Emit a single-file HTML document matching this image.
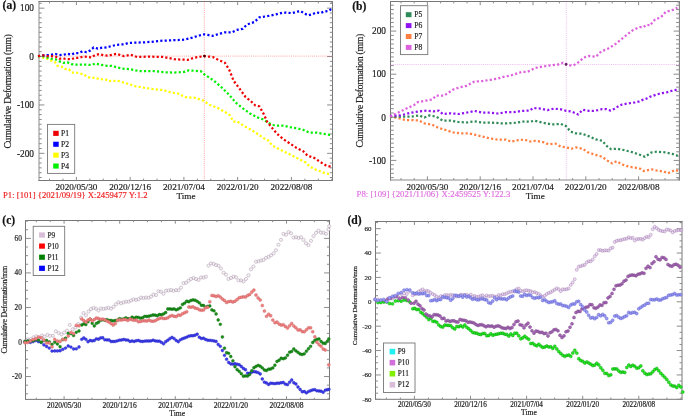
<!DOCTYPE html>
<html><head><meta charset="utf-8"><style>
html,body{margin:0;padding:0;background:#fff;overflow:hidden}
svg{display:block;will-change:transform}
text{font-family:"Liberation Serif",serif;paint-order:stroke;stroke:currentColor;stroke-width:0.18px}
</style></head><body>
<svg width="685" height="417" viewBox="0 0 685 417">
<rect width="685" height="417" fill="#fff"/>
<path d="M39 1V181" stroke="#8a8a8a" stroke-width="1"/>
<path d="M332.5 1V181" stroke="#777777" stroke-width="1"/>
<path d="M38.5 1.5H333" stroke="#777777" stroke-width="1"/>
<path d="M38.5 180.5H333" stroke="#777777" stroke-width="1"/>
<path d="M39 8.16h5.4M332.5 8.16h-5.4M39 56.55h5.4M332.5 56.55h-5.4M39 104.94h5.4M332.5 104.94h-5.4M39 153.33h5.4M332.5 153.33h-5.4M39 177.52h2.7M332.5 177.52h-2.7M39 172.69h2.7M332.5 172.69h-2.7M39 167.85h2.7M332.5 167.85h-2.7M39 163.01h2.7M332.5 163.01h-2.7M39 158.17h2.7M332.5 158.17h-2.7M39 148.49h2.7M332.5 148.49h-2.7M39 143.65h2.7M332.5 143.65h-2.7M39 138.81h2.7M332.5 138.81h-2.7M39 133.97h2.7M332.5 133.97h-2.7M39 129.13h2.7M332.5 129.13h-2.7M39 124.3h2.7M332.5 124.3h-2.7M39 119.46h2.7M332.5 119.46h-2.7M39 114.62h2.7M332.5 114.62h-2.7M39 109.78h2.7M332.5 109.78h-2.7M39 100.1h2.7M332.5 100.1h-2.7M39 95.26h2.7M332.5 95.26h-2.7M39 90.42h2.7M332.5 90.42h-2.7M39 85.58h2.7M332.5 85.58h-2.7M39 80.75h2.7M332.5 80.75h-2.7M39 75.91h2.7M332.5 75.91h-2.7M39 71.07h2.7M332.5 71.07h-2.7M39 66.23h2.7M332.5 66.23h-2.7M39 61.39h2.7M332.5 61.39h-2.7M39 51.71h2.7M332.5 51.71h-2.7M39 46.87h2.7M332.5 46.87h-2.7M39 42.03h2.7M332.5 42.03h-2.7M39 37.19h2.7M332.5 37.19h-2.7M39 32.35h2.7M332.5 32.35h-2.7M39 27.52h2.7M332.5 27.52h-2.7M39 22.68h2.7M332.5 22.68h-2.7M39 17.84h2.7M332.5 17.84h-2.7M39 13h2.7M332.5 13h-2.7M39 3.32h2.7M332.5 3.32h-2.7" stroke="#8c8c8c" stroke-width="1" fill="none"/>
<path d="M76.4 180.5v-3.6M76.4 1.5v3.6M130.15 180.5v-3.6M130.15 1.5v3.6M183.9 180.5v-3.6M183.9 1.5v3.6M237.65 180.5v-3.6M237.65 1.5v3.6M291.4 180.5v-3.6M291.4 1.5v3.6M49.52 180.5v-1.9M49.52 1.5v1.9M62.96 180.5v-1.9M62.96 1.5v1.9M89.84 180.5v-1.9M89.84 1.5v1.9M103.28 180.5v-1.9M103.28 1.5v1.9M116.72 180.5v-1.9M116.72 1.5v1.9M143.6 180.5v-1.9M143.6 1.5v1.9M157.04 180.5v-1.9M157.04 1.5v1.9M170.48 180.5v-1.9M170.48 1.5v1.9M197.36 180.5v-1.9M197.36 1.5v1.9M210.8 180.5v-1.9M210.8 1.5v1.9M224.24 180.5v-1.9M224.24 1.5v1.9M251.12 180.5v-1.9M251.12 1.5v1.9M264.56 180.5v-1.9M264.56 1.5v1.9M278 180.5v-1.9M278 1.5v1.9M304.88 180.5v-1.9M304.88 1.5v1.9M318.32 180.5v-1.9M318.32 1.5v1.9M331.76 180.5v-1.9M331.76 1.5v1.9" stroke="#8c8c8c" stroke-width="1" fill="none"/>
<path d="M204.3 1.5V180.5M39.0 56.1H332.5" stroke="#ff4040" stroke-width="0.8" stroke-dasharray="1,1.1" fill="none" opacity="0.6"/>
<path d="M38 56.1L42.6 57.5L47 58.7L50.9 60.5L55 62.1L57.2 65.7L61.4 66.5L64.9 68.9L68.9 69.3L71.8 72.5L76.1 72.5L79.9 73.4L84.1 74.6L87.1 76.9L91.3 77.9L95.5 77.7L99.1 79.1L103.3 79.3L107.5 79.9L108.8 81.1L117.5 80.7L126.3 83.3L135 86.1L143.8 87.7L152.6 89L163.5 90.1L172.3 92.7L177.7 93.4L185.4 97.1L194.2 97.7L202.9 100.4L209.3 104.8L217.8 108L224.6 111.8L229.9 115.2L233.2 121.5L237.6 121.7L244.1 126.1L250.7 129.4L257.3 133.8L263.8 138.2L267.1 139.3L272.6 145.8L281.3 150.2L287.9 153.5L294.5 156.8L301 160.1L305.4 162.3L309.8 166.6L316.4 169.9L325.1 173.2L330.6 174.3" fill="none" stroke="#ffff00" stroke-width="2.25" stroke-dasharray="2.15 2.2" stroke-dashoffset="0" stroke-linejoin="round"/>
<path d="M38 56.1L42.6 56.1L47 57.5L50.9 58.7L55.4 59.3L59.6 61.4L63.4 62.9L67.3 62.3L71.3 64.1L74.9 64.7L78.7 64.7L82.9 64.5L86.9 64.7L91.3 65L95.5 63.5L99.7 64.5L103.6 65.3L107.5 65.9L111.7 65.9L121.9 68.6L130.7 69.3L139.4 71.2L152.6 71L165.7 72.3L174.4 72.6L184.3 71.9L188.7 70.4L200.7 71.2L204 74.1L213.9 80.7L222.6 88.3L229.2 94.9L235.8 102.6L242.3 108L250 113.5L257.3 117.4L263.8 119.6L268.2 122.8L272.6 125L277 125.5L283.5 125.5L290.1 127.2L296.7 128.3L303.2 129.9L309.8 132.7L316.4 132.7L323 133.8L330.6 134.9" fill="none" stroke="#00ee00" stroke-width="2.25" stroke-dasharray="2.15 2.2" stroke-dashoffset="0" stroke-linejoin="round"/>
<path d="M38 56.1L42.6 55.4L47 55.1L50.9 54.9L55.4 54L59.3 55.1L63.4 54.9L67.3 53.7L71.3 54.6L74.9 53L78.7 53L82.5 51.3L86.5 52.2L90.5 50.4L93.7 47.4L97.9 48.6L102.1 47.7L106.5 47.4L110.8 46.2L117 44.8L124.3 44.3L127.9 43.1L133.9 42.7L143.4 42.4L150.6 41.9L157.8 41.2L162.6 40.7L172.2 40.3L181.8 39.8L185 39.5L192.2 37.6L199.4 35.5L204.2 34.3L209 35.2L212.6 35.9L218.5 34L224.5 32.4L231.7 32.4L236.5 30L242.5 28.8L247.3 24.4L254.5 22L259.3 17.3L266.5 16.3L276.1 14.4L283.2 12.5L292.2 13.1L296.6 11.8L300.7 11.1L304.4 13.6L308.4 15.3L312.5 14.2L316.4 12.4L320.5 13.1L324.4 11.4L328.8 10.9L332.5 8.1" fill="none" stroke="#0000ff" stroke-width="2.25" stroke-dasharray="2.15 2.2" stroke-dashoffset="0" stroke-linejoin="round"/>
<path d="M38 56.1L42.6 55.4L47 56.1L50.9 56.1L55.4 56.6L59.3 58.7L63.4 58.5L67.1 59L71.3 59.3L74.9 57.8L78.7 57.8L82.9 56.6L86.9 56.9L91.3 57.5L94.9 55.1L99.1 54.2L103.3 55.1L107.5 55.7L111.7 54.9L116.4 53.9L124.1 56.1L130.7 54.8L137.2 57L148.2 56.6L163.5 57L174.4 59.2L187.6 59.9L194.2 57.7L204 56.1L212.8 57L218.2 59.9L224.8 62.7L229.2 69.7L233.6 80.7L240.1 89.4L245.6 97.1L250.7 100.9L255.1 105.3L259.4 106.4L263.8 114.1L267.1 121.7L271.5 127.2L277 133.8L283.5 139.3L290.1 143.6L296.7 148L303.2 151.3L307.6 155.7L314.2 157.9L320.8 162.3L326.2 165.5L330.6 166.6" fill="none" stroke="#ee0000" stroke-width="2.25" stroke-dasharray="2.15 2.2" stroke-dashoffset="0" stroke-linejoin="round"/>
<circle cx="204.4" cy="56.1" r="1.4" fill="#500000"/>
<text x="34" y="11.46" font-size="9.3" text-anchor="end" fill="#222" style="color:#222" font-weight="normal" >100</text>
<text x="34" y="59.85" font-size="9.3" text-anchor="end" fill="#222" style="color:#222" font-weight="normal" >0</text>
<text x="34" y="108.24" font-size="9.3" text-anchor="end" fill="#222" style="color:#222" font-weight="normal" >-100</text>
<text x="34" y="156.63" font-size="9.3" text-anchor="end" fill="#222" style="color:#222" font-weight="normal" >-200</text>
<text x="76.4" y="190" font-size="9.2" text-anchor="middle" fill="#222" style="color:#222" font-weight="normal" >2020/05/30</text>
<text x="130.15" y="190" font-size="9.2" text-anchor="middle" fill="#222" style="color:#222" font-weight="normal" >2020/12/16</text>
<text x="183.9" y="190" font-size="9.2" text-anchor="middle" fill="#222" style="color:#222" font-weight="normal" >2021/07/04</text>
<text x="237.65" y="190" font-size="9.2" text-anchor="middle" fill="#222" style="color:#222" font-weight="normal" >2022/01/20</text>
<text x="291.4" y="190" font-size="9.2" text-anchor="middle" fill="#222" style="color:#222" font-weight="normal" >2022/08/08</text>
<text x="186" y="198.9" font-size="9.2" text-anchor="middle" fill="#222" style="color:#222" font-weight="normal" >Time</text>
<text x="3" y="198" font-size="8.9" text-anchor="start" fill="#ee2222" style="color:#ee2222" font-weight="normal" textLength="144.5" lengthAdjust="spacingAndGlyphs">P1: [101] {2021/09/19} X:2459477 Y:1.2</text>
<text transform="translate(10.8,91.4) rotate(-90)" font-size="9.7" text-anchor="middle" fill="#222" style="color:#222" textLength="114.4" lengthAdjust="spacing">Cumulative Deformation (mm)</text>
<text x="2.6" y="8.9" font-size="11.6" text-anchor="start" fill="#111" style="color:#111" font-weight="bold" >(a)</text>
<rect x="47.5" y="124.4" width="27.2" height="49" fill="#fff" stroke="#777" stroke-width="0.9"/>
<rect x="53.2" y="130.8" width="5.5" height="5.1" fill="#ee0000"/>
<text x="61" y="135.9" font-size="7.6" text-anchor="start" fill="#222" style="color:#222" font-weight="normal" >P1</text>
<rect x="53.2" y="141.7" width="5.5" height="5.1" fill="#0000ff"/>
<text x="61" y="146.8" font-size="7.6" text-anchor="start" fill="#222" style="color:#222" font-weight="normal" >P2</text>
<rect x="53.2" y="152.6" width="5.5" height="5.1" fill="#ffff00"/>
<text x="61" y="157.7" font-size="7.6" text-anchor="start" fill="#222" style="color:#222" font-weight="normal" >P3</text>
<rect x="53.2" y="163.5" width="5.5" height="5.1" fill="#00ee00"/>
<text x="61" y="168.6" font-size="7.6" text-anchor="start" fill="#222" style="color:#222" font-weight="normal" >P4</text>
<path d="M390.5 1V180.5" stroke="#777777" stroke-width="1"/>
<path d="M679.4 1V180.5" stroke="#777777" stroke-width="1"/>
<path d="M390 1.5H679.9" stroke="#777777" stroke-width="1"/>
<path d="M390 180H679.9" stroke="#8a8a8a" stroke-width="1"/>
<path d="M390.5 31.1h5.8M679.4 31.1h-5.8M390.5 74.2h5.8M679.4 74.2h-5.8M390.5 117.3h5.8M679.4 117.3h-5.8M390.5 160.4h5.8M679.4 160.4h-5.8M390.5 177.64h3.3M679.4 177.64h-3.3M390.5 173.33h3.3M679.4 173.33h-3.3M390.5 169.02h3.3M679.4 169.02h-3.3M390.5 164.71h3.3M679.4 164.71h-3.3M390.5 156.09h3.3M679.4 156.09h-3.3M390.5 151.78h3.3M679.4 151.78h-3.3M390.5 147.47h3.3M679.4 147.47h-3.3M390.5 143.16h3.3M679.4 143.16h-3.3M390.5 138.85h3.3M679.4 138.85h-3.3M390.5 134.54h3.3M679.4 134.54h-3.3M390.5 130.23h3.3M679.4 130.23h-3.3M390.5 125.92h3.3M679.4 125.92h-3.3M390.5 121.61h3.3M679.4 121.61h-3.3M390.5 112.99h3.3M679.4 112.99h-3.3M390.5 108.68h3.3M679.4 108.68h-3.3M390.5 104.37h3.3M679.4 104.37h-3.3M390.5 100.06h3.3M679.4 100.06h-3.3M390.5 95.75h3.3M679.4 95.75h-3.3M390.5 91.44h3.3M679.4 91.44h-3.3M390.5 87.13h3.3M679.4 87.13h-3.3M390.5 82.82h3.3M679.4 82.82h-3.3M390.5 78.51h3.3M679.4 78.51h-3.3M390.5 69.89h3.3M679.4 69.89h-3.3M390.5 65.58h3.3M679.4 65.58h-3.3M390.5 61.27h3.3M679.4 61.27h-3.3M390.5 56.96h3.3M679.4 56.96h-3.3M390.5 52.65h3.3M679.4 52.65h-3.3M390.5 48.34h3.3M679.4 48.34h-3.3M390.5 44.03h3.3M679.4 44.03h-3.3M390.5 39.72h3.3M679.4 39.72h-3.3M390.5 35.41h3.3M679.4 35.41h-3.3M390.5 26.79h3.3M679.4 26.79h-3.3M390.5 22.48h3.3M679.4 22.48h-3.3M390.5 18.17h3.3M679.4 18.17h-3.3M390.5 13.86h3.3M679.4 13.86h-3.3M390.5 9.55h3.3M679.4 9.55h-3.3M390.5 5.24h3.3M679.4 5.24h-3.3" stroke="#8c8c8c" stroke-width="1" fill="none"/>
<path d="M427.4 180v-3.7M427.4 1.5v3.7M480.2 180v-3.7M480.2 1.5v3.7M533 180v-3.7M533 1.5v3.7M585.8 180v-3.7M585.8 1.5v3.7M638.6 180v-3.7M638.6 1.5v3.7M401 180v-1.9M401 1.5v1.9M414.2 180v-1.9M414.2 1.5v1.9M440.6 180v-1.9M440.6 1.5v1.9M453.8 180v-1.9M453.8 1.5v1.9M467 180v-1.9M467 1.5v1.9M493.4 180v-1.9M493.4 1.5v1.9M506.6 180v-1.9M506.6 1.5v1.9M519.8 180v-1.9M519.8 1.5v1.9M546.2 180v-1.9M546.2 1.5v1.9M559.4 180v-1.9M559.4 1.5v1.9M572.6 180v-1.9M572.6 1.5v1.9M599 180v-1.9M599 1.5v1.9M612.2 180v-1.9M612.2 1.5v1.9M625.4 180v-1.9M625.4 1.5v1.9M651.8 180v-1.9M651.8 1.5v1.9M665 180v-1.9M665 1.5v1.9M678.2 180v-1.9M678.2 1.5v1.9" stroke="#8c8c8c" stroke-width="1" fill="none"/>
<path d="M566.3 1.5V180.0M390.5 64.5H679.4" stroke="#e060e0" stroke-width="0.8" stroke-dasharray="1,1.1" fill="none" opacity="0.55"/>
<path d="M390 116.7L397.9 118L405.8 120.1L413.7 120.1L419 120.6L424.3 123.3L432.2 124.6L438.8 128L445.4 129.9L453.3 132.5L461.2 133.3L467.8 133.3L474.4 134.6L482.3 136.5L490.2 138.6L498.1 139.6L506 139.6L511.3 141.7L516.5 140.4L524.5 139.6L530 141.5L535.5 140.8L543.1 142.1L548.6 144.3L555.2 143.6L560.7 146.5L566.1 147.4L571.6 148.7L576 147.4L582.6 148.7L588 152.4L594.6 154.6L602.3 156.8L606.6 160.1L612.1 163.4L616.5 161.2L622 164.4L628.5 166.6L635.1 167.7L640.6 168.8L643.9 171L651.5 169.3L657 170.6L663.6 171.5L668 173.2L675.6 169.9L678.9 171.5" fill="none" stroke="#ff7f40" stroke-width="2.25" stroke-dasharray="2.15 2.2" stroke-dashoffset="0" stroke-linejoin="round"/>
<path d="M390 116.7L400.5 116.7L411.1 116.7L419 115.4L424.3 117.5L429.5 115.4L436.1 116.7L442.7 120.6L450.6 120.6L458.5 122L466.5 122.5L474.4 121.4L482.3 122.5L490.2 122.5L500.7 123.3L508.6 123.3L516.5 122.7L524.5 121.4L530 121.7L534.4 120.7L543.1 122.8L551.9 124.4L560.7 123.9L566.1 126.1L570.5 131.6L576 133.4L582.6 133.8L589.1 136.4L595.7 139.3L602.3 140.8L606.6 145.8L611 149.1L617.6 148.7L624.2 150.2L630.7 151.7L637.3 153.9L645 156.8L651.5 152.4L657 151.7L665.8 152.4L672.3 153.9L677.8 155.7" fill="none" stroke="#2e8b57" stroke-width="2.25" stroke-dasharray="2.15 2.2" stroke-dashoffset="0" stroke-linejoin="round"/>
<path d="M390 115.9L400.5 115.4L411.1 112.7L419 111.4L426.9 110.6L433.5 111.4L438.8 110.6L442.7 114L450.6 113.3L458.5 114L466.5 112.7L474.4 110.9L482.3 112.7L490.2 112.7L498.1 113.5L506 112.2L513.9 112.2L521.8 110.9L529.7 110.6L533.3 108L540.9 108.6L547.5 110.1L554.1 108.6L560.7 109.3L566.1 110.8L571.6 111.5L578.2 114.5L582.6 109.7L589.1 110.8L593.5 110.8L597.9 110.1L602.1 109.1L606.3 109.1L610.6 110.6L614.5 108.7L618.2 106.4L622.2 104.4L626.6 103.7L630.7 103L634.9 102.5L639.2 101.4L643.2 99.6L647.4 98.3L650.4 96.6L657 94.4L661.4 93.3L667.1 92.3L673.7 90.2L679 89.6" fill="none" stroke="#9014f0" stroke-width="2.25" stroke-dasharray="2.15 2.2" stroke-dashoffset="0" stroke-linejoin="round"/>
<path d="M390 116.7L397.9 112.7L405.8 108.8L413.7 105.3L417.7 102.2L424.3 100.9L432.2 99.5L436.1 95.6L444 95.6L448 93L453.3 89.5L458.5 87.7L466.5 85.8L474.4 81.6L482.3 81.1L490.2 79.8L498.1 78.5L503.4 76.9L511.3 75.3L521.8 71.9L527.1 71.9L530 70.7L535.3 68L543.2 66.4L551.1 65.4L557.7 64.6L563 62.7L566.4 64.1L569.5 65.4L573.5 65.4L578.8 62L584 57.5L589.3 55.9L595.9 56.7L601.2 51.4L607.8 48.8L614.4 44.8L621 39.5L627.5 34.3L633.3 29.8L637.1 28.2L640.3 27.1L643.4 27.1L646.5 24.8L650.4 25.4L652.6 21.7L655.6 19.1L659.9 17.8L662.8 15.3L665.5 12L669.7 10.9L673.6 9.6L677.4 7.7" fill="none" stroke="#dd60dd" stroke-width="2.25" stroke-dasharray="2.15 2.2" stroke-dashoffset="0" stroke-linejoin="round"/>
<circle cx="566" cy="64.4" r="1.3" fill="#602060"/>
<text x="386" y="34.3" font-size="9.3" text-anchor="end" fill="#222" style="color:#222" font-weight="normal" >200</text>
<text x="386" y="77.4" font-size="9.3" text-anchor="end" fill="#222" style="color:#222" font-weight="normal" >100</text>
<text x="386" y="120.5" font-size="9.3" text-anchor="end" fill="#222" style="color:#222" font-weight="normal" >0</text>
<text x="386" y="163.6" font-size="9.3" text-anchor="end" fill="#222" style="color:#222" font-weight="normal" >-100</text>
<text x="427.4" y="189.7" font-size="9.2" text-anchor="middle" fill="#222" style="color:#222" font-weight="normal" >2020/05/30</text>
<text x="480.2" y="189.7" font-size="9.2" text-anchor="middle" fill="#222" style="color:#222" font-weight="normal" >2020/12/16</text>
<text x="533" y="189.7" font-size="9.2" text-anchor="middle" fill="#222" style="color:#222" font-weight="normal" >2021/07/04</text>
<text x="585.8" y="189.7" font-size="9.2" text-anchor="middle" fill="#222" style="color:#222" font-weight="normal" >2022/01/20</text>
<text x="638.6" y="189.7" font-size="9.2" text-anchor="middle" fill="#222" style="color:#222" font-weight="normal" >2022/08/08</text>
<text x="535.3" y="198.7" font-size="9.2" text-anchor="middle" fill="#222" style="color:#222" font-weight="normal" >Time</text>
<text x="356.6" y="197" font-size="8.9" text-anchor="start" fill="#e070e0" style="color:#e070e0" font-weight="normal" textLength="153.7" lengthAdjust="spacingAndGlyphs">P8: [109] {2021/11/06} X:2459525 Y:122.3</text>
<text transform="translate(362.9,90.6) rotate(-90)" font-size="9.7" text-anchor="middle" fill="#222" style="color:#222" textLength="113.6" lengthAdjust="spacing">Cumulative Deformation (mm)</text>
<text x="352.2" y="9.5" font-size="11.6" text-anchor="start" fill="#111" style="color:#111" font-weight="bold" >(b)</text>
<rect x="400.5" y="5.7" width="27.3" height="48.9" fill="#fff" stroke="#777" stroke-width="0.9"/>
<rect x="405.8" y="12.2" width="5.7" height="5" fill="#2e8b57"/>
<text x="414.3" y="17.3" font-size="7.6" text-anchor="start" fill="#222" style="color:#222" font-weight="normal" >P5</text>
<rect x="405.8" y="23.1" width="5.7" height="5" fill="#9014f0"/>
<text x="414.3" y="28.2" font-size="7.6" text-anchor="start" fill="#222" style="color:#222" font-weight="normal" >P6</text>
<rect x="405.8" y="34" width="5.7" height="5" fill="#ff7f40"/>
<text x="414.3" y="39.1" font-size="7.6" text-anchor="start" fill="#222" style="color:#222" font-weight="normal" >P7</text>
<rect x="405.8" y="44.9" width="5.7" height="5" fill="#dd60dd"/>
<text x="414.3" y="50" font-size="7.6" text-anchor="start" fill="#222" style="color:#222" font-weight="normal" >P8</text>
<path d="M25.5 220V399.9" stroke="#777777" stroke-width="1"/>
<path d="M329.5 220V399.9" stroke="#777777" stroke-width="1"/>
<path d="M25 220.5H330" stroke="#777777" stroke-width="1"/>
<path d="M25 399.4H330" stroke="#777777" stroke-width="1"/>
<path d="M25.5 238.38h5.4M329.5 238.38h-5.4M25.5 272.92h5.4M329.5 272.92h-5.4M25.5 307.46h5.4M329.5 307.46h-5.4M25.5 342h5.4M329.5 342h-5.4M25.5 376.54h5.4M329.5 376.54h-5.4M25.5 393.81h2.6M329.5 393.81h-2.6M25.5 385.18h2.6M329.5 385.18h-2.6M25.5 367.9h2.6M329.5 367.9h-2.6M25.5 359.27h2.6M329.5 359.27h-2.6M25.5 350.63h2.6M329.5 350.63h-2.6M25.5 333.37h2.6M329.5 333.37h-2.6M25.5 324.73h2.6M329.5 324.73h-2.6M25.5 316.1h2.6M329.5 316.1h-2.6M25.5 298.82h2.6M329.5 298.82h-2.6M25.5 290.19h2.6M329.5 290.19h-2.6M25.5 281.56h2.6M329.5 281.56h-2.6M25.5 264.28h2.6M329.5 264.28h-2.6M25.5 255.65h2.6M329.5 255.65h-2.6M25.5 247.01h2.6M329.5 247.01h-2.6M25.5 229.75h2.6M329.5 229.75h-2.6M25.5 221.11h2.6M329.5 221.11h-2.6" stroke="#8c8c8c" stroke-width="1" fill="none"/>
<path d="M64.1 399.4v-3.2M64.1 220.5v3.2M119.7 399.4v-3.2M119.7 220.5v3.2M175.3 399.4v-3.2M175.3 220.5v3.2M230.9 399.4v-3.2M230.9 220.5v3.2M286.5 399.4v-3.2M286.5 220.5v3.2M36.3 399.4v-1.7M36.3 220.5v1.7M50.2 399.4v-1.7M50.2 220.5v1.7M78 399.4v-1.7M78 220.5v1.7M91.9 399.4v-1.7M91.9 220.5v1.7M105.8 399.4v-1.7M105.8 220.5v1.7M133.6 399.4v-1.7M133.6 220.5v1.7M147.5 399.4v-1.7M147.5 220.5v1.7M161.4 399.4v-1.7M161.4 220.5v1.7M189.2 399.4v-1.7M189.2 220.5v1.7M203.1 399.4v-1.7M203.1 220.5v1.7M217 399.4v-1.7M217 220.5v1.7M244.8 399.4v-1.7M244.8 220.5v1.7M258.7 399.4v-1.7M258.7 220.5v1.7M272.6 399.4v-1.7M272.6 220.5v1.7M300.4 399.4v-1.7M300.4 220.5v1.7M314.3 399.4v-1.7M314.3 220.5v1.7M328.2 399.4v-1.7M328.2 220.5v1.7" stroke="#8c8c8c" stroke-width="1" fill="none"/>
<path d="M23.4 341.14a1.6 1.6 0 1 0 3.2 0a1.6 1.6 0 1 0 -3.2 0M26.2 339.24a1.6 1.6 0 1 0 3.2 0a1.6 1.6 0 1 0 -3.2 0M29 339.29a1.6 1.6 0 1 0 3.2 0a1.6 1.6 0 1 0 -3.2 0M31.8 337.33a1.6 1.6 0 1 0 3.2 0a1.6 1.6 0 1 0 -3.2 0M34.6 336.39a1.6 1.6 0 1 0 3.2 0a1.6 1.6 0 1 0 -3.2 0M37.4 337.73a1.6 1.6 0 1 0 3.2 0a1.6 1.6 0 1 0 -3.2 0M40.2 335.56a1.6 1.6 0 1 0 3.2 0a1.6 1.6 0 1 0 -3.2 0M43 336.57a1.6 1.6 0 1 0 3.2 0a1.6 1.6 0 1 0 -3.2 0M45.8 334.86a1.6 1.6 0 1 0 3.2 0a1.6 1.6 0 1 0 -3.2 0M48.6 335.91a1.6 1.6 0 1 0 3.2 0a1.6 1.6 0 1 0 -3.2 0M51.4 335.68a1.6 1.6 0 1 0 3.2 0a1.6 1.6 0 1 0 -3.2 0M54.2 331.26a1.6 1.6 0 1 0 3.2 0a1.6 1.6 0 1 0 -3.2 0M57 333.02a1.6 1.6 0 1 0 3.2 0a1.6 1.6 0 1 0 -3.2 0M59.8 334.34a1.6 1.6 0 1 0 3.2 0a1.6 1.6 0 1 0 -3.2 0M62.6 332.58a1.6 1.6 0 1 0 3.2 0a1.6 1.6 0 1 0 -3.2 0M65.4 330.62a1.6 1.6 0 1 0 3.2 0a1.6 1.6 0 1 0 -3.2 0M68.2 324.91a1.6 1.6 0 1 0 3.2 0a1.6 1.6 0 1 0 -3.2 0M71 329.33a1.6 1.6 0 1 0 3.2 0a1.6 1.6 0 1 0 -3.2 0M73.8 327.5a1.6 1.6 0 1 0 3.2 0a1.6 1.6 0 1 0 -3.2 0M76.6 324a1.6 1.6 0 1 0 3.2 0a1.6 1.6 0 1 0 -3.2 0M79.4 317.61a1.6 1.6 0 1 0 3.2 0a1.6 1.6 0 1 0 -3.2 0M81.9 313.04a1.6 1.6 0 1 0 3.2 0a1.6 1.6 0 1 0 -3.2 0M84.4 315.26a1.6 1.6 0 1 0 3.2 0a1.6 1.6 0 1 0 -3.2 0M86.9 311.55a1.6 1.6 0 1 0 3.2 0a1.6 1.6 0 1 0 -3.2 0M89.4 309.09a1.6 1.6 0 1 0 3.2 0a1.6 1.6 0 1 0 -3.2 0M91.9 307.97a1.6 1.6 0 1 0 3.2 0a1.6 1.6 0 1 0 -3.2 0M94.4 308.65a1.6 1.6 0 1 0 3.2 0a1.6 1.6 0 1 0 -3.2 0M96.9 310.48a1.6 1.6 0 1 0 3.2 0a1.6 1.6 0 1 0 -3.2 0M99.4 308.5a1.6 1.6 0 1 0 3.2 0a1.6 1.6 0 1 0 -3.2 0M101.9 308.9a1.6 1.6 0 1 0 3.2 0a1.6 1.6 0 1 0 -3.2 0M104.4 308.39a1.6 1.6 0 1 0 3.2 0a1.6 1.6 0 1 0 -3.2 0M106.9 307.75a1.6 1.6 0 1 0 3.2 0a1.6 1.6 0 1 0 -3.2 0M109.4 308.64a1.6 1.6 0 1 0 3.2 0a1.6 1.6 0 1 0 -3.2 0M111.9 306.76a1.6 1.6 0 1 0 3.2 0a1.6 1.6 0 1 0 -3.2 0M114.4 304.25a1.6 1.6 0 1 0 3.2 0a1.6 1.6 0 1 0 -3.2 0M116.9 302.23a1.6 1.6 0 1 0 3.2 0a1.6 1.6 0 1 0 -3.2 0M119.4 303.29a1.6 1.6 0 1 0 3.2 0a1.6 1.6 0 1 0 -3.2 0M121.9 302.45a1.6 1.6 0 1 0 3.2 0a1.6 1.6 0 1 0 -3.2 0M124.4 301.63a1.6 1.6 0 1 0 3.2 0a1.6 1.6 0 1 0 -3.2 0M126.9 301.68a1.6 1.6 0 1 0 3.2 0a1.6 1.6 0 1 0 -3.2 0M129.4 300.62a1.6 1.6 0 1 0 3.2 0a1.6 1.6 0 1 0 -3.2 0M131.9 299.4a1.6 1.6 0 1 0 3.2 0a1.6 1.6 0 1 0 -3.2 0M134.4 299.91a1.6 1.6 0 1 0 3.2 0a1.6 1.6 0 1 0 -3.2 0M136.9 299.23a1.6 1.6 0 1 0 3.2 0a1.6 1.6 0 1 0 -3.2 0M139.4 297.6a1.6 1.6 0 1 0 3.2 0a1.6 1.6 0 1 0 -3.2 0M141.9 298.07a1.6 1.6 0 1 0 3.2 0a1.6 1.6 0 1 0 -3.2 0M144.4 297.55a1.6 1.6 0 1 0 3.2 0a1.6 1.6 0 1 0 -3.2 0M146.9 297.84a1.6 1.6 0 1 0 3.2 0a1.6 1.6 0 1 0 -3.2 0M149.4 296.63a1.6 1.6 0 1 0 3.2 0a1.6 1.6 0 1 0 -3.2 0M151.9 294.54a1.6 1.6 0 1 0 3.2 0a1.6 1.6 0 1 0 -3.2 0M154.4 295.06a1.6 1.6 0 1 0 3.2 0a1.6 1.6 0 1 0 -3.2 0M156.9 291.29a1.6 1.6 0 1 0 3.2 0a1.6 1.6 0 1 0 -3.2 0M159.4 291.59a1.6 1.6 0 1 0 3.2 0a1.6 1.6 0 1 0 -3.2 0M161.9 293.72a1.6 1.6 0 1 0 3.2 0a1.6 1.6 0 1 0 -3.2 0M164.4 290.66a1.6 1.6 0 1 0 3.2 0a1.6 1.6 0 1 0 -3.2 0M166.9 290.48a1.6 1.6 0 1 0 3.2 0a1.6 1.6 0 1 0 -3.2 0M169.4 289.97a1.6 1.6 0 1 0 3.2 0a1.6 1.6 0 1 0 -3.2 0M171.9 290.71a1.6 1.6 0 1 0 3.2 0a1.6 1.6 0 1 0 -3.2 0M174.4 290.15a1.6 1.6 0 1 0 3.2 0a1.6 1.6 0 1 0 -3.2 0M176.9 290.31a1.6 1.6 0 1 0 3.2 0a1.6 1.6 0 1 0 -3.2 0M179.4 287.68a1.6 1.6 0 1 0 3.2 0a1.6 1.6 0 1 0 -3.2 0M181.9 283.2a1.6 1.6 0 1 0 3.2 0a1.6 1.6 0 1 0 -3.2 0M184.4 282.73a1.6 1.6 0 1 0 3.2 0a1.6 1.6 0 1 0 -3.2 0M186.9 280.72a1.6 1.6 0 1 0 3.2 0a1.6 1.6 0 1 0 -3.2 0M189.4 278.93a1.6 1.6 0 1 0 3.2 0a1.6 1.6 0 1 0 -3.2 0M191.9 277.95a1.6 1.6 0 1 0 3.2 0a1.6 1.6 0 1 0 -3.2 0M194.4 279.07a1.6 1.6 0 1 0 3.2 0a1.6 1.6 0 1 0 -3.2 0M196.9 279.91a1.6 1.6 0 1 0 3.2 0a1.6 1.6 0 1 0 -3.2 0M199.4 277.43a1.6 1.6 0 1 0 3.2 0a1.6 1.6 0 1 0 -3.2 0M201.9 277.63a1.6 1.6 0 1 0 3.2 0a1.6 1.6 0 1 0 -3.2 0M204.4 276.63a1.6 1.6 0 1 0 3.2 0a1.6 1.6 0 1 0 -3.2 0M206.9 265.54a1.6 1.6 0 1 0 3.2 0a1.6 1.6 0 1 0 -3.2 0M209.4 263.39a1.6 1.6 0 1 0 3.2 0a1.6 1.6 0 1 0 -3.2 0M211.9 263.82a1.6 1.6 0 1 0 3.2 0a1.6 1.6 0 1 0 -3.2 0M214.4 265.05a1.6 1.6 0 1 0 3.2 0a1.6 1.6 0 1 0 -3.2 0M216.9 265.74a1.6 1.6 0 1 0 3.2 0a1.6 1.6 0 1 0 -3.2 0M219.4 268.5a1.6 1.6 0 1 0 3.2 0a1.6 1.6 0 1 0 -3.2 0M221.9 272.76a1.6 1.6 0 1 0 3.2 0a1.6 1.6 0 1 0 -3.2 0M224.4 274.64a1.6 1.6 0 1 0 3.2 0a1.6 1.6 0 1 0 -3.2 0M226.9 278.94a1.6 1.6 0 1 0 3.2 0a1.6 1.6 0 1 0 -3.2 0M229.4 278.01a1.6 1.6 0 1 0 3.2 0a1.6 1.6 0 1 0 -3.2 0M231.9 276.65a1.6 1.6 0 1 0 3.2 0a1.6 1.6 0 1 0 -3.2 0M234.4 277.25a1.6 1.6 0 1 0 3.2 0a1.6 1.6 0 1 0 -3.2 0M236.9 280.36a1.6 1.6 0 1 0 3.2 0a1.6 1.6 0 1 0 -3.2 0M239.4 280.3a1.6 1.6 0 1 0 3.2 0a1.6 1.6 0 1 0 -3.2 0M241.9 281.44a1.6 1.6 0 1 0 3.2 0a1.6 1.6 0 1 0 -3.2 0M244.4 278.92a1.6 1.6 0 1 0 3.2 0a1.6 1.6 0 1 0 -3.2 0M246.9 275.17a1.6 1.6 0 1 0 3.2 0a1.6 1.6 0 1 0 -3.2 0M249.4 269.31a1.6 1.6 0 1 0 3.2 0a1.6 1.6 0 1 0 -3.2 0M251.9 266.47a1.6 1.6 0 1 0 3.2 0a1.6 1.6 0 1 0 -3.2 0M254.4 261.73a1.6 1.6 0 1 0 3.2 0a1.6 1.6 0 1 0 -3.2 0M256.9 261.27a1.6 1.6 0 1 0 3.2 0a1.6 1.6 0 1 0 -3.2 0M259.4 260.48a1.6 1.6 0 1 0 3.2 0a1.6 1.6 0 1 0 -3.2 0M261.9 259.97a1.6 1.6 0 1 0 3.2 0a1.6 1.6 0 1 0 -3.2 0M264.4 257.82a1.6 1.6 0 1 0 3.2 0a1.6 1.6 0 1 0 -3.2 0M266.9 256.93a1.6 1.6 0 1 0 3.2 0a1.6 1.6 0 1 0 -3.2 0M269.4 255.37a1.6 1.6 0 1 0 3.2 0a1.6 1.6 0 1 0 -3.2 0M271.9 253.4a1.6 1.6 0 1 0 3.2 0a1.6 1.6 0 1 0 -3.2 0M274.4 250.26a1.6 1.6 0 1 0 3.2 0a1.6 1.6 0 1 0 -3.2 0M276.9 244.74a1.6 1.6 0 1 0 3.2 0a1.6 1.6 0 1 0 -3.2 0M279.4 239.86a1.6 1.6 0 1 0 3.2 0a1.6 1.6 0 1 0 -3.2 0M281.9 233.94a1.6 1.6 0 1 0 3.2 0a1.6 1.6 0 1 0 -3.2 0M284.4 234.77a1.6 1.6 0 1 0 3.2 0a1.6 1.6 0 1 0 -3.2 0M286.9 232.06a1.6 1.6 0 1 0 3.2 0a1.6 1.6 0 1 0 -3.2 0M289.4 233.33a1.6 1.6 0 1 0 3.2 0a1.6 1.6 0 1 0 -3.2 0M291.9 237.55a1.6 1.6 0 1 0 3.2 0a1.6 1.6 0 1 0 -3.2 0M294.4 237.25a1.6 1.6 0 1 0 3.2 0a1.6 1.6 0 1 0 -3.2 0M296.9 237.94a1.6 1.6 0 1 0 3.2 0a1.6 1.6 0 1 0 -3.2 0M299.4 237.22a1.6 1.6 0 1 0 3.2 0a1.6 1.6 0 1 0 -3.2 0M301.9 239.88a1.6 1.6 0 1 0 3.2 0a1.6 1.6 0 1 0 -3.2 0M304.4 243.28a1.6 1.6 0 1 0 3.2 0a1.6 1.6 0 1 0 -3.2 0M306.9 245.1a1.6 1.6 0 1 0 3.2 0a1.6 1.6 0 1 0 -3.2 0M309.4 240.81a1.6 1.6 0 1 0 3.2 0a1.6 1.6 0 1 0 -3.2 0M311.9 236.04a1.6 1.6 0 1 0 3.2 0a1.6 1.6 0 1 0 -3.2 0M314.4 232.86a1.6 1.6 0 1 0 3.2 0a1.6 1.6 0 1 0 -3.2 0M316.9 230.66a1.6 1.6 0 1 0 3.2 0a1.6 1.6 0 1 0 -3.2 0M319.4 232.65a1.6 1.6 0 1 0 3.2 0a1.6 1.6 0 1 0 -3.2 0M321.9 232.65a1.6 1.6 0 1 0 3.2 0a1.6 1.6 0 1 0 -3.2 0M324.4 233.78a1.6 1.6 0 1 0 3.2 0a1.6 1.6 0 1 0 -3.2 0M326.9 229.51a1.6 1.6 0 1 0 3.2 0a1.6 1.6 0 1 0 -3.2 0M327.6 226.22a1.6 1.6 0 1 0 3.2 0a1.6 1.6 0 1 0 -3.2 0" fill="#f8f2f8" stroke="#a898a8" stroke-width="0.5"/>
<path d="M23.55 342.24a1.45 1.45 0 1 0 2.9 0a1.45 1.45 0 1 0 -2.9 0M26.25 341.32a1.45 1.45 0 1 0 2.9 0a1.45 1.45 0 1 0 -2.9 0M28.95 342.39a1.45 1.45 0 1 0 2.9 0a1.45 1.45 0 1 0 -2.9 0M31.65 341.6a1.45 1.45 0 1 0 2.9 0a1.45 1.45 0 1 0 -2.9 0M34.35 340.48a1.45 1.45 0 1 0 2.9 0a1.45 1.45 0 1 0 -2.9 0M37.05 341.65a1.45 1.45 0 1 0 2.9 0a1.45 1.45 0 1 0 -2.9 0M39.75 342.39a1.45 1.45 0 1 0 2.9 0a1.45 1.45 0 1 0 -2.9 0M42.45 344.89a1.45 1.45 0 1 0 2.9 0a1.45 1.45 0 1 0 -2.9 0M45.15 346.48a1.45 1.45 0 1 0 2.9 0a1.45 1.45 0 1 0 -2.9 0M47.85 348.12a1.45 1.45 0 1 0 2.9 0a1.45 1.45 0 1 0 -2.9 0M50.55 351.12a1.45 1.45 0 1 0 2.9 0a1.45 1.45 0 1 0 -2.9 0M53.25 350.94a1.45 1.45 0 1 0 2.9 0a1.45 1.45 0 1 0 -2.9 0M55.95 350.94a1.45 1.45 0 1 0 2.9 0a1.45 1.45 0 1 0 -2.9 0M58.65 350.76a1.45 1.45 0 1 0 2.9 0a1.45 1.45 0 1 0 -2.9 0M61.35 349.4a1.45 1.45 0 1 0 2.9 0a1.45 1.45 0 1 0 -2.9 0M64.05 348.08a1.45 1.45 0 1 0 2.9 0a1.45 1.45 0 1 0 -2.9 0M66.75 346.04a1.45 1.45 0 1 0 2.9 0a1.45 1.45 0 1 0 -2.9 0M69.45 347.1a1.45 1.45 0 1 0 2.9 0a1.45 1.45 0 1 0 -2.9 0M72.15 349a1.45 1.45 0 1 0 2.9 0a1.45 1.45 0 1 0 -2.9 0M74.85 348.87a1.45 1.45 0 1 0 2.9 0a1.45 1.45 0 1 0 -2.9 0M77.55 346.94a1.45 1.45 0 1 0 2.9 0a1.45 1.45 0 1 0 -2.9 0M80.25 339.36a1.45 1.45 0 1 0 2.9 0a1.45 1.45 0 1 0 -2.9 0M82.35 337.99a1.45 1.45 0 1 0 2.9 0a1.45 1.45 0 1 0 -2.9 0M84.45 339.34a1.45 1.45 0 1 0 2.9 0a1.45 1.45 0 1 0 -2.9 0M86.55 341.75a1.45 1.45 0 1 0 2.9 0a1.45 1.45 0 1 0 -2.9 0M88.65 340.46a1.45 1.45 0 1 0 2.9 0a1.45 1.45 0 1 0 -2.9 0M90.75 340.89a1.45 1.45 0 1 0 2.9 0a1.45 1.45 0 1 0 -2.9 0M92.85 340.57a1.45 1.45 0 1 0 2.9 0a1.45 1.45 0 1 0 -2.9 0M94.95 338.86a1.45 1.45 0 1 0 2.9 0a1.45 1.45 0 1 0 -2.9 0M97.05 339.21a1.45 1.45 0 1 0 2.9 0a1.45 1.45 0 1 0 -2.9 0M99.15 337.96a1.45 1.45 0 1 0 2.9 0a1.45 1.45 0 1 0 -2.9 0M101.25 337.74a1.45 1.45 0 1 0 2.9 0a1.45 1.45 0 1 0 -2.9 0M103.35 339.84a1.45 1.45 0 1 0 2.9 0a1.45 1.45 0 1 0 -2.9 0M105.45 339.89a1.45 1.45 0 1 0 2.9 0a1.45 1.45 0 1 0 -2.9 0M107.55 340.01a1.45 1.45 0 1 0 2.9 0a1.45 1.45 0 1 0 -2.9 0M109.65 341.48a1.45 1.45 0 1 0 2.9 0a1.45 1.45 0 1 0 -2.9 0M111.75 341.48a1.45 1.45 0 1 0 2.9 0a1.45 1.45 0 1 0 -2.9 0M113.85 341.42a1.45 1.45 0 1 0 2.9 0a1.45 1.45 0 1 0 -2.9 0M115.95 340.87a1.45 1.45 0 1 0 2.9 0a1.45 1.45 0 1 0 -2.9 0M118.05 340.16a1.45 1.45 0 1 0 2.9 0a1.45 1.45 0 1 0 -2.9 0M120.15 340.04a1.45 1.45 0 1 0 2.9 0a1.45 1.45 0 1 0 -2.9 0M122.25 339.49a1.45 1.45 0 1 0 2.9 0a1.45 1.45 0 1 0 -2.9 0M124.35 340.01a1.45 1.45 0 1 0 2.9 0a1.45 1.45 0 1 0 -2.9 0M126.45 340.09a1.45 1.45 0 1 0 2.9 0a1.45 1.45 0 1 0 -2.9 0M128.55 341.44a1.45 1.45 0 1 0 2.9 0a1.45 1.45 0 1 0 -2.9 0M130.65 341.05a1.45 1.45 0 1 0 2.9 0a1.45 1.45 0 1 0 -2.9 0M132.75 341.45a1.45 1.45 0 1 0 2.9 0a1.45 1.45 0 1 0 -2.9 0M134.85 340.73a1.45 1.45 0 1 0 2.9 0a1.45 1.45 0 1 0 -2.9 0M136.95 340.5a1.45 1.45 0 1 0 2.9 0a1.45 1.45 0 1 0 -2.9 0M139.05 341.31a1.45 1.45 0 1 0 2.9 0a1.45 1.45 0 1 0 -2.9 0M141.15 341.45a1.45 1.45 0 1 0 2.9 0a1.45 1.45 0 1 0 -2.9 0M143.25 341.1a1.45 1.45 0 1 0 2.9 0a1.45 1.45 0 1 0 -2.9 0M145.35 340.99a1.45 1.45 0 1 0 2.9 0a1.45 1.45 0 1 0 -2.9 0M147.45 341.01a1.45 1.45 0 1 0 2.9 0a1.45 1.45 0 1 0 -2.9 0M149.55 340.88a1.45 1.45 0 1 0 2.9 0a1.45 1.45 0 1 0 -2.9 0M151.65 340.22a1.45 1.45 0 1 0 2.9 0a1.45 1.45 0 1 0 -2.9 0M153.75 340.88a1.45 1.45 0 1 0 2.9 0a1.45 1.45 0 1 0 -2.9 0M155.85 341.14a1.45 1.45 0 1 0 2.9 0a1.45 1.45 0 1 0 -2.9 0M157.95 341.15a1.45 1.45 0 1 0 2.9 0a1.45 1.45 0 1 0 -2.9 0M160.05 342.38a1.45 1.45 0 1 0 2.9 0a1.45 1.45 0 1 0 -2.9 0M162.15 343.85a1.45 1.45 0 1 0 2.9 0a1.45 1.45 0 1 0 -2.9 0M164.25 341.71a1.45 1.45 0 1 0 2.9 0a1.45 1.45 0 1 0 -2.9 0M166.35 340.31a1.45 1.45 0 1 0 2.9 0a1.45 1.45 0 1 0 -2.9 0M168.45 338.63a1.45 1.45 0 1 0 2.9 0a1.45 1.45 0 1 0 -2.9 0M170.55 337.39a1.45 1.45 0 1 0 2.9 0a1.45 1.45 0 1 0 -2.9 0M172.65 338.58a1.45 1.45 0 1 0 2.9 0a1.45 1.45 0 1 0 -2.9 0M174.75 340.51a1.45 1.45 0 1 0 2.9 0a1.45 1.45 0 1 0 -2.9 0M176.85 341.71a1.45 1.45 0 1 0 2.9 0a1.45 1.45 0 1 0 -2.9 0M178.95 339.83a1.45 1.45 0 1 0 2.9 0a1.45 1.45 0 1 0 -2.9 0M181.05 338.76a1.45 1.45 0 1 0 2.9 0a1.45 1.45 0 1 0 -2.9 0M183.15 338.03a1.45 1.45 0 1 0 2.9 0a1.45 1.45 0 1 0 -2.9 0M185.25 337.16a1.45 1.45 0 1 0 2.9 0a1.45 1.45 0 1 0 -2.9 0M187.35 336.13a1.45 1.45 0 1 0 2.9 0a1.45 1.45 0 1 0 -2.9 0M189.45 335.75a1.45 1.45 0 1 0 2.9 0a1.45 1.45 0 1 0 -2.9 0M191.55 335.75a1.45 1.45 0 1 0 2.9 0a1.45 1.45 0 1 0 -2.9 0M193.65 335.23a1.45 1.45 0 1 0 2.9 0a1.45 1.45 0 1 0 -2.9 0M195.75 334.18a1.45 1.45 0 1 0 2.9 0a1.45 1.45 0 1 0 -2.9 0M197.85 337.26a1.45 1.45 0 1 0 2.9 0a1.45 1.45 0 1 0 -2.9 0M199.95 338.57a1.45 1.45 0 1 0 2.9 0a1.45 1.45 0 1 0 -2.9 0M202.05 338.22a1.45 1.45 0 1 0 2.9 0a1.45 1.45 0 1 0 -2.9 0M204.15 339.49a1.45 1.45 0 1 0 2.9 0a1.45 1.45 0 1 0 -2.9 0M206.25 340.24a1.45 1.45 0 1 0 2.9 0a1.45 1.45 0 1 0 -2.9 0M208.35 340.34a1.45 1.45 0 1 0 2.9 0a1.45 1.45 0 1 0 -2.9 0M210.45 340.6a1.45 1.45 0 1 0 2.9 0a1.45 1.45 0 1 0 -2.9 0M212.55 340.93a1.45 1.45 0 1 0 2.9 0a1.45 1.45 0 1 0 -2.9 0M214.65 341.44a1.45 1.45 0 1 0 2.9 0a1.45 1.45 0 1 0 -2.9 0M216.75 344.52a1.45 1.45 0 1 0 2.9 0a1.45 1.45 0 1 0 -2.9 0M218.85 346.33a1.45 1.45 0 1 0 2.9 0a1.45 1.45 0 1 0 -2.9 0M220.95 350.58a1.45 1.45 0 1 0 2.9 0a1.45 1.45 0 1 0 -2.9 0M223.05 355.35a1.45 1.45 0 1 0 2.9 0a1.45 1.45 0 1 0 -2.9 0M225.15 359.23a1.45 1.45 0 1 0 2.9 0a1.45 1.45 0 1 0 -2.9 0M227.25 362.43a1.45 1.45 0 1 0 2.9 0a1.45 1.45 0 1 0 -2.9 0M229.35 363.94a1.45 1.45 0 1 0 2.9 0a1.45 1.45 0 1 0 -2.9 0M231.45 364.16a1.45 1.45 0 1 0 2.9 0a1.45 1.45 0 1 0 -2.9 0M233.55 363.8a1.45 1.45 0 1 0 2.9 0a1.45 1.45 0 1 0 -2.9 0M235.65 364.25a1.45 1.45 0 1 0 2.9 0a1.45 1.45 0 1 0 -2.9 0M237.75 364.82a1.45 1.45 0 1 0 2.9 0a1.45 1.45 0 1 0 -2.9 0M239.85 366.55a1.45 1.45 0 1 0 2.9 0a1.45 1.45 0 1 0 -2.9 0M241.95 368.49a1.45 1.45 0 1 0 2.9 0a1.45 1.45 0 1 0 -2.9 0M244.05 369.74a1.45 1.45 0 1 0 2.9 0a1.45 1.45 0 1 0 -2.9 0M246.15 373.18a1.45 1.45 0 1 0 2.9 0a1.45 1.45 0 1 0 -2.9 0M248.25 373.3a1.45 1.45 0 1 0 2.9 0a1.45 1.45 0 1 0 -2.9 0M250.35 372.15a1.45 1.45 0 1 0 2.9 0a1.45 1.45 0 1 0 -2.9 0M252.45 371.66a1.45 1.45 0 1 0 2.9 0a1.45 1.45 0 1 0 -2.9 0M254.55 371.98a1.45 1.45 0 1 0 2.9 0a1.45 1.45 0 1 0 -2.9 0M256.65 372.58a1.45 1.45 0 1 0 2.9 0a1.45 1.45 0 1 0 -2.9 0M258.75 373.97a1.45 1.45 0 1 0 2.9 0a1.45 1.45 0 1 0 -2.9 0M260.85 379a1.45 1.45 0 1 0 2.9 0a1.45 1.45 0 1 0 -2.9 0M262.95 382.14a1.45 1.45 0 1 0 2.9 0a1.45 1.45 0 1 0 -2.9 0M265.05 382.99a1.45 1.45 0 1 0 2.9 0a1.45 1.45 0 1 0 -2.9 0M267.15 384.54a1.45 1.45 0 1 0 2.9 0a1.45 1.45 0 1 0 -2.9 0M269.25 383.22a1.45 1.45 0 1 0 2.9 0a1.45 1.45 0 1 0 -2.9 0M271.35 383.39a1.45 1.45 0 1 0 2.9 0a1.45 1.45 0 1 0 -2.9 0M273.45 383.65a1.45 1.45 0 1 0 2.9 0a1.45 1.45 0 1 0 -2.9 0M275.55 383.19a1.45 1.45 0 1 0 2.9 0a1.45 1.45 0 1 0 -2.9 0M277.65 383.23a1.45 1.45 0 1 0 2.9 0a1.45 1.45 0 1 0 -2.9 0M279.75 382.77a1.45 1.45 0 1 0 2.9 0a1.45 1.45 0 1 0 -2.9 0M281.85 382.53a1.45 1.45 0 1 0 2.9 0a1.45 1.45 0 1 0 -2.9 0M283.95 384.14a1.45 1.45 0 1 0 2.9 0a1.45 1.45 0 1 0 -2.9 0M286.05 384.66a1.45 1.45 0 1 0 2.9 0a1.45 1.45 0 1 0 -2.9 0M288.15 382.3a1.45 1.45 0 1 0 2.9 0a1.45 1.45 0 1 0 -2.9 0M290.25 380.05a1.45 1.45 0 1 0 2.9 0a1.45 1.45 0 1 0 -2.9 0M292.35 382.74a1.45 1.45 0 1 0 2.9 0a1.45 1.45 0 1 0 -2.9 0M294.45 384.07a1.45 1.45 0 1 0 2.9 0a1.45 1.45 0 1 0 -2.9 0M296.55 387.03a1.45 1.45 0 1 0 2.9 0a1.45 1.45 0 1 0 -2.9 0M298.65 389.43a1.45 1.45 0 1 0 2.9 0a1.45 1.45 0 1 0 -2.9 0M300.75 391.82a1.45 1.45 0 1 0 2.9 0a1.45 1.45 0 1 0 -2.9 0M302.85 391.57a1.45 1.45 0 1 0 2.9 0a1.45 1.45 0 1 0 -2.9 0M304.95 392.89a1.45 1.45 0 1 0 2.9 0a1.45 1.45 0 1 0 -2.9 0M307.05 391.58a1.45 1.45 0 1 0 2.9 0a1.45 1.45 0 1 0 -2.9 0M309.15 390.79a1.45 1.45 0 1 0 2.9 0a1.45 1.45 0 1 0 -2.9 0M311.25 389.94a1.45 1.45 0 1 0 2.9 0a1.45 1.45 0 1 0 -2.9 0M313.35 389.65a1.45 1.45 0 1 0 2.9 0a1.45 1.45 0 1 0 -2.9 0M315.45 390.85a1.45 1.45 0 1 0 2.9 0a1.45 1.45 0 1 0 -2.9 0M317.55 390.97a1.45 1.45 0 1 0 2.9 0a1.45 1.45 0 1 0 -2.9 0M319.65 391.21a1.45 1.45 0 1 0 2.9 0a1.45 1.45 0 1 0 -2.9 0M321.75 392.33a1.45 1.45 0 1 0 2.9 0a1.45 1.45 0 1 0 -2.9 0M323.85 390.28a1.45 1.45 0 1 0 2.9 0a1.45 1.45 0 1 0 -2.9 0M325.95 389.72a1.45 1.45 0 1 0 2.9 0a1.45 1.45 0 1 0 -2.9 0M327.55 389.36a1.45 1.45 0 1 0 2.9 0a1.45 1.45 0 1 0 -2.9 0" fill="#3c3cf0" stroke="#2828b8" stroke-width="0.4"/>
<path d="M23.55 341.59a1.45 1.45 0 1 0 2.9 0a1.45 1.45 0 1 0 -2.9 0M26.25 341a1.45 1.45 0 1 0 2.9 0a1.45 1.45 0 1 0 -2.9 0M28.95 341.13a1.45 1.45 0 1 0 2.9 0a1.45 1.45 0 1 0 -2.9 0M31.65 340.7a1.45 1.45 0 1 0 2.9 0a1.45 1.45 0 1 0 -2.9 0M34.35 339.58a1.45 1.45 0 1 0 2.9 0a1.45 1.45 0 1 0 -2.9 0M37.05 340.1a1.45 1.45 0 1 0 2.9 0a1.45 1.45 0 1 0 -2.9 0M39.75 342.24a1.45 1.45 0 1 0 2.9 0a1.45 1.45 0 1 0 -2.9 0M42.45 340.57a1.45 1.45 0 1 0 2.9 0a1.45 1.45 0 1 0 -2.9 0M45.15 340.49a1.45 1.45 0 1 0 2.9 0a1.45 1.45 0 1 0 -2.9 0M47.85 341.97a1.45 1.45 0 1 0 2.9 0a1.45 1.45 0 1 0 -2.9 0M50.55 344.46a1.45 1.45 0 1 0 2.9 0a1.45 1.45 0 1 0 -2.9 0M53.25 342.3a1.45 1.45 0 1 0 2.9 0a1.45 1.45 0 1 0 -2.9 0M55.95 344.02a1.45 1.45 0 1 0 2.9 0a1.45 1.45 0 1 0 -2.9 0M58.65 346.72a1.45 1.45 0 1 0 2.9 0a1.45 1.45 0 1 0 -2.9 0M61.35 339.58a1.45 1.45 0 1 0 2.9 0a1.45 1.45 0 1 0 -2.9 0M64.05 338.32a1.45 1.45 0 1 0 2.9 0a1.45 1.45 0 1 0 -2.9 0M66.75 333.48a1.45 1.45 0 1 0 2.9 0a1.45 1.45 0 1 0 -2.9 0M69.45 333.6a1.45 1.45 0 1 0 2.9 0a1.45 1.45 0 1 0 -2.9 0M72.15 335.45a1.45 1.45 0 1 0 2.9 0a1.45 1.45 0 1 0 -2.9 0M74.85 332.33a1.45 1.45 0 1 0 2.9 0a1.45 1.45 0 1 0 -2.9 0M77.55 330.95a1.45 1.45 0 1 0 2.9 0a1.45 1.45 0 1 0 -2.9 0M80.25 325.05a1.45 1.45 0 1 0 2.9 0a1.45 1.45 0 1 0 -2.9 0M82.35 323.92a1.45 1.45 0 1 0 2.9 0a1.45 1.45 0 1 0 -2.9 0M84.45 324.61a1.45 1.45 0 1 0 2.9 0a1.45 1.45 0 1 0 -2.9 0M86.55 321.73a1.45 1.45 0 1 0 2.9 0a1.45 1.45 0 1 0 -2.9 0M88.65 319.2a1.45 1.45 0 1 0 2.9 0a1.45 1.45 0 1 0 -2.9 0M90.75 323.32a1.45 1.45 0 1 0 2.9 0a1.45 1.45 0 1 0 -2.9 0M92.85 325.94a1.45 1.45 0 1 0 2.9 0a1.45 1.45 0 1 0 -2.9 0M94.95 323.41a1.45 1.45 0 1 0 2.9 0a1.45 1.45 0 1 0 -2.9 0M97.05 322.19a1.45 1.45 0 1 0 2.9 0a1.45 1.45 0 1 0 -2.9 0M99.15 320.35a1.45 1.45 0 1 0 2.9 0a1.45 1.45 0 1 0 -2.9 0M101.25 319.77a1.45 1.45 0 1 0 2.9 0a1.45 1.45 0 1 0 -2.9 0M103.35 320.21a1.45 1.45 0 1 0 2.9 0a1.45 1.45 0 1 0 -2.9 0M105.45 319.62a1.45 1.45 0 1 0 2.9 0a1.45 1.45 0 1 0 -2.9 0M107.55 320.44a1.45 1.45 0 1 0 2.9 0a1.45 1.45 0 1 0 -2.9 0M109.65 320.51a1.45 1.45 0 1 0 2.9 0a1.45 1.45 0 1 0 -2.9 0M111.75 320.92a1.45 1.45 0 1 0 2.9 0a1.45 1.45 0 1 0 -2.9 0M113.85 320.56a1.45 1.45 0 1 0 2.9 0a1.45 1.45 0 1 0 -2.9 0M115.95 320.19a1.45 1.45 0 1 0 2.9 0a1.45 1.45 0 1 0 -2.9 0M118.05 318.62a1.45 1.45 0 1 0 2.9 0a1.45 1.45 0 1 0 -2.9 0M120.15 319.27a1.45 1.45 0 1 0 2.9 0a1.45 1.45 0 1 0 -2.9 0M122.25 318.94a1.45 1.45 0 1 0 2.9 0a1.45 1.45 0 1 0 -2.9 0M124.35 317.86a1.45 1.45 0 1 0 2.9 0a1.45 1.45 0 1 0 -2.9 0M126.45 318.78a1.45 1.45 0 1 0 2.9 0a1.45 1.45 0 1 0 -2.9 0M128.55 318.63a1.45 1.45 0 1 0 2.9 0a1.45 1.45 0 1 0 -2.9 0M130.65 317.16a1.45 1.45 0 1 0 2.9 0a1.45 1.45 0 1 0 -2.9 0M132.75 318.12a1.45 1.45 0 1 0 2.9 0a1.45 1.45 0 1 0 -2.9 0M134.85 317.24a1.45 1.45 0 1 0 2.9 0a1.45 1.45 0 1 0 -2.9 0M136.95 317.38a1.45 1.45 0 1 0 2.9 0a1.45 1.45 0 1 0 -2.9 0M139.05 318.18a1.45 1.45 0 1 0 2.9 0a1.45 1.45 0 1 0 -2.9 0M141.15 317.75a1.45 1.45 0 1 0 2.9 0a1.45 1.45 0 1 0 -2.9 0M143.25 316.35a1.45 1.45 0 1 0 2.9 0a1.45 1.45 0 1 0 -2.9 0M145.35 316.45a1.45 1.45 0 1 0 2.9 0a1.45 1.45 0 1 0 -2.9 0M147.45 316.23a1.45 1.45 0 1 0 2.9 0a1.45 1.45 0 1 0 -2.9 0M149.55 315.58a1.45 1.45 0 1 0 2.9 0a1.45 1.45 0 1 0 -2.9 0M151.65 315.01a1.45 1.45 0 1 0 2.9 0a1.45 1.45 0 1 0 -2.9 0M153.75 315.14a1.45 1.45 0 1 0 2.9 0a1.45 1.45 0 1 0 -2.9 0M155.85 315.73a1.45 1.45 0 1 0 2.9 0a1.45 1.45 0 1 0 -2.9 0M157.95 314.55a1.45 1.45 0 1 0 2.9 0a1.45 1.45 0 1 0 -2.9 0M160.05 314.77a1.45 1.45 0 1 0 2.9 0a1.45 1.45 0 1 0 -2.9 0M162.15 313.88a1.45 1.45 0 1 0 2.9 0a1.45 1.45 0 1 0 -2.9 0M164.25 312.56a1.45 1.45 0 1 0 2.9 0a1.45 1.45 0 1 0 -2.9 0M166.35 308.95a1.45 1.45 0 1 0 2.9 0a1.45 1.45 0 1 0 -2.9 0M168.45 308.94a1.45 1.45 0 1 0 2.9 0a1.45 1.45 0 1 0 -2.9 0M170.55 309.18a1.45 1.45 0 1 0 2.9 0a1.45 1.45 0 1 0 -2.9 0M172.65 308.88a1.45 1.45 0 1 0 2.9 0a1.45 1.45 0 1 0 -2.9 0M174.75 309.88a1.45 1.45 0 1 0 2.9 0a1.45 1.45 0 1 0 -2.9 0M176.85 309.04a1.45 1.45 0 1 0 2.9 0a1.45 1.45 0 1 0 -2.9 0M178.95 307.86a1.45 1.45 0 1 0 2.9 0a1.45 1.45 0 1 0 -2.9 0M181.05 304.53a1.45 1.45 0 1 0 2.9 0a1.45 1.45 0 1 0 -2.9 0M183.15 303.14a1.45 1.45 0 1 0 2.9 0a1.45 1.45 0 1 0 -2.9 0M185.25 301.21a1.45 1.45 0 1 0 2.9 0a1.45 1.45 0 1 0 -2.9 0M187.35 301.8a1.45 1.45 0 1 0 2.9 0a1.45 1.45 0 1 0 -2.9 0M189.45 300.5a1.45 1.45 0 1 0 2.9 0a1.45 1.45 0 1 0 -2.9 0M191.55 299.94a1.45 1.45 0 1 0 2.9 0a1.45 1.45 0 1 0 -2.9 0M193.65 300.27a1.45 1.45 0 1 0 2.9 0a1.45 1.45 0 1 0 -2.9 0M195.75 301.37a1.45 1.45 0 1 0 2.9 0a1.45 1.45 0 1 0 -2.9 0M197.85 302.9a1.45 1.45 0 1 0 2.9 0a1.45 1.45 0 1 0 -2.9 0M199.95 305.33a1.45 1.45 0 1 0 2.9 0a1.45 1.45 0 1 0 -2.9 0M202.05 305.55a1.45 1.45 0 1 0 2.9 0a1.45 1.45 0 1 0 -2.9 0M204.15 307.18a1.45 1.45 0 1 0 2.9 0a1.45 1.45 0 1 0 -2.9 0M206.25 306.33a1.45 1.45 0 1 0 2.9 0a1.45 1.45 0 1 0 -2.9 0M208.35 306.04a1.45 1.45 0 1 0 2.9 0a1.45 1.45 0 1 0 -2.9 0M210.45 309.89a1.45 1.45 0 1 0 2.9 0a1.45 1.45 0 1 0 -2.9 0M212.55 310.86a1.45 1.45 0 1 0 2.9 0a1.45 1.45 0 1 0 -2.9 0M214.65 313.93a1.45 1.45 0 1 0 2.9 0a1.45 1.45 0 1 0 -2.9 0M216.75 319.96a1.45 1.45 0 1 0 2.9 0a1.45 1.45 0 1 0 -2.9 0M218.85 324.37a1.45 1.45 0 1 0 2.9 0a1.45 1.45 0 1 0 -2.9 0M220.95 337a1.45 1.45 0 1 0 2.9 0a1.45 1.45 0 1 0 -2.9 0M223.05 348.22a1.45 1.45 0 1 0 2.9 0a1.45 1.45 0 1 0 -2.9 0M225.15 352.68a1.45 1.45 0 1 0 2.9 0a1.45 1.45 0 1 0 -2.9 0M227.25 353.33a1.45 1.45 0 1 0 2.9 0a1.45 1.45 0 1 0 -2.9 0M229.35 356.56a1.45 1.45 0 1 0 2.9 0a1.45 1.45 0 1 0 -2.9 0M231.45 360.84a1.45 1.45 0 1 0 2.9 0a1.45 1.45 0 1 0 -2.9 0M233.55 366.78a1.45 1.45 0 1 0 2.9 0a1.45 1.45 0 1 0 -2.9 0M235.65 369.63a1.45 1.45 0 1 0 2.9 0a1.45 1.45 0 1 0 -2.9 0M237.75 371.39a1.45 1.45 0 1 0 2.9 0a1.45 1.45 0 1 0 -2.9 0M239.85 373.68a1.45 1.45 0 1 0 2.9 0a1.45 1.45 0 1 0 -2.9 0M241.95 376.25a1.45 1.45 0 1 0 2.9 0a1.45 1.45 0 1 0 -2.9 0M244.05 375.9a1.45 1.45 0 1 0 2.9 0a1.45 1.45 0 1 0 -2.9 0M246.15 376.11a1.45 1.45 0 1 0 2.9 0a1.45 1.45 0 1 0 -2.9 0M248.25 374.47a1.45 1.45 0 1 0 2.9 0a1.45 1.45 0 1 0 -2.9 0M250.35 370.81a1.45 1.45 0 1 0 2.9 0a1.45 1.45 0 1 0 -2.9 0M252.45 367.81a1.45 1.45 0 1 0 2.9 0a1.45 1.45 0 1 0 -2.9 0M254.55 366.42a1.45 1.45 0 1 0 2.9 0a1.45 1.45 0 1 0 -2.9 0M256.65 365.35a1.45 1.45 0 1 0 2.9 0a1.45 1.45 0 1 0 -2.9 0M258.75 366.29a1.45 1.45 0 1 0 2.9 0a1.45 1.45 0 1 0 -2.9 0M260.85 367.9a1.45 1.45 0 1 0 2.9 0a1.45 1.45 0 1 0 -2.9 0M262.95 369.99a1.45 1.45 0 1 0 2.9 0a1.45 1.45 0 1 0 -2.9 0M265.05 370.55a1.45 1.45 0 1 0 2.9 0a1.45 1.45 0 1 0 -2.9 0M267.15 369.11a1.45 1.45 0 1 0 2.9 0a1.45 1.45 0 1 0 -2.9 0M269.25 368.93a1.45 1.45 0 1 0 2.9 0a1.45 1.45 0 1 0 -2.9 0M271.35 367.88a1.45 1.45 0 1 0 2.9 0a1.45 1.45 0 1 0 -2.9 0M273.45 365.27a1.45 1.45 0 1 0 2.9 0a1.45 1.45 0 1 0 -2.9 0M275.55 361.48a1.45 1.45 0 1 0 2.9 0a1.45 1.45 0 1 0 -2.9 0M277.65 360.28a1.45 1.45 0 1 0 2.9 0a1.45 1.45 0 1 0 -2.9 0M279.75 358.32a1.45 1.45 0 1 0 2.9 0a1.45 1.45 0 1 0 -2.9 0M281.85 358.75a1.45 1.45 0 1 0 2.9 0a1.45 1.45 0 1 0 -2.9 0M283.95 357.93a1.45 1.45 0 1 0 2.9 0a1.45 1.45 0 1 0 -2.9 0M286.05 355.27a1.45 1.45 0 1 0 2.9 0a1.45 1.45 0 1 0 -2.9 0M288.15 352.23a1.45 1.45 0 1 0 2.9 0a1.45 1.45 0 1 0 -2.9 0M290.25 351.43a1.45 1.45 0 1 0 2.9 0a1.45 1.45 0 1 0 -2.9 0M292.35 349.03a1.45 1.45 0 1 0 2.9 0a1.45 1.45 0 1 0 -2.9 0M294.45 350.91a1.45 1.45 0 1 0 2.9 0a1.45 1.45 0 1 0 -2.9 0M296.55 352.39a1.45 1.45 0 1 0 2.9 0a1.45 1.45 0 1 0 -2.9 0M298.65 353.99a1.45 1.45 0 1 0 2.9 0a1.45 1.45 0 1 0 -2.9 0M300.75 354.54a1.45 1.45 0 1 0 2.9 0a1.45 1.45 0 1 0 -2.9 0M302.85 353.83a1.45 1.45 0 1 0 2.9 0a1.45 1.45 0 1 0 -2.9 0M304.95 351.21a1.45 1.45 0 1 0 2.9 0a1.45 1.45 0 1 0 -2.9 0M307.05 348.7a1.45 1.45 0 1 0 2.9 0a1.45 1.45 0 1 0 -2.9 0M309.15 346.37a1.45 1.45 0 1 0 2.9 0a1.45 1.45 0 1 0 -2.9 0M311.25 342.55a1.45 1.45 0 1 0 2.9 0a1.45 1.45 0 1 0 -2.9 0M313.35 340.53a1.45 1.45 0 1 0 2.9 0a1.45 1.45 0 1 0 -2.9 0M315.45 339.33a1.45 1.45 0 1 0 2.9 0a1.45 1.45 0 1 0 -2.9 0M317.55 339.02a1.45 1.45 0 1 0 2.9 0a1.45 1.45 0 1 0 -2.9 0M319.65 341.45a1.45 1.45 0 1 0 2.9 0a1.45 1.45 0 1 0 -2.9 0M321.75 343.26a1.45 1.45 0 1 0 2.9 0a1.45 1.45 0 1 0 -2.9 0M323.85 343.49a1.45 1.45 0 1 0 2.9 0a1.45 1.45 0 1 0 -2.9 0M325.95 341.32a1.45 1.45 0 1 0 2.9 0a1.45 1.45 0 1 0 -2.9 0M327.35 338.91a1.45 1.45 0 1 0 2.9 0a1.45 1.45 0 1 0 -2.9 0" fill="#1a901a" stroke="#0a680a" stroke-width="0.4"/>
<path d="M23.5 342.79a1.5 1.5 0 1 0 3 0a1.5 1.5 0 1 0 -3 0M26.2 342.38a1.5 1.5 0 1 0 3 0a1.5 1.5 0 1 0 -3 0M28.9 341.12a1.5 1.5 0 1 0 3 0a1.5 1.5 0 1 0 -3 0M31.6 339.51a1.5 1.5 0 1 0 3 0a1.5 1.5 0 1 0 -3 0M34.3 338.7a1.5 1.5 0 1 0 3 0a1.5 1.5 0 1 0 -3 0M37 337.09a1.5 1.5 0 1 0 3 0a1.5 1.5 0 1 0 -3 0M39.7 337.69a1.5 1.5 0 1 0 3 0a1.5 1.5 0 1 0 -3 0M42.4 340.04a1.5 1.5 0 1 0 3 0a1.5 1.5 0 1 0 -3 0M45.1 342.92a1.5 1.5 0 1 0 3 0a1.5 1.5 0 1 0 -3 0M47.8 342.9a1.5 1.5 0 1 0 3 0a1.5 1.5 0 1 0 -3 0M50.5 346.82a1.5 1.5 0 1 0 3 0a1.5 1.5 0 1 0 -3 0M53.2 339.34a1.5 1.5 0 1 0 3 0a1.5 1.5 0 1 0 -3 0M55.9 340.91a1.5 1.5 0 1 0 3 0a1.5 1.5 0 1 0 -3 0M58.6 341.42a1.5 1.5 0 1 0 3 0a1.5 1.5 0 1 0 -3 0M61.3 339.36a1.5 1.5 0 1 0 3 0a1.5 1.5 0 1 0 -3 0M64 339.84a1.5 1.5 0 1 0 3 0a1.5 1.5 0 1 0 -3 0M66.7 336.02a1.5 1.5 0 1 0 3 0a1.5 1.5 0 1 0 -3 0M69.4 332.39a1.5 1.5 0 1 0 3 0a1.5 1.5 0 1 0 -3 0M72.1 333.55a1.5 1.5 0 1 0 3 0a1.5 1.5 0 1 0 -3 0M74.8 325.42a1.5 1.5 0 1 0 3 0a1.5 1.5 0 1 0 -3 0M77.5 325.73a1.5 1.5 0 1 0 3 0a1.5 1.5 0 1 0 -3 0M80.2 318.98a1.5 1.5 0 1 0 3 0a1.5 1.5 0 1 0 -3 0M82.3 320.61a1.5 1.5 0 1 0 3 0a1.5 1.5 0 1 0 -3 0M84.4 322.06a1.5 1.5 0 1 0 3 0a1.5 1.5 0 1 0 -3 0M86.5 320a1.5 1.5 0 1 0 3 0a1.5 1.5 0 1 0 -3 0M88.6 319.1a1.5 1.5 0 1 0 3 0a1.5 1.5 0 1 0 -3 0M90.7 320.75a1.5 1.5 0 1 0 3 0a1.5 1.5 0 1 0 -3 0M92.8 319.51a1.5 1.5 0 1 0 3 0a1.5 1.5 0 1 0 -3 0M94.9 317.96a1.5 1.5 0 1 0 3 0a1.5 1.5 0 1 0 -3 0M97 318.4a1.5 1.5 0 1 0 3 0a1.5 1.5 0 1 0 -3 0M99.1 319.36a1.5 1.5 0 1 0 3 0a1.5 1.5 0 1 0 -3 0M101.2 319.12a1.5 1.5 0 1 0 3 0a1.5 1.5 0 1 0 -3 0M103.3 319.78a1.5 1.5 0 1 0 3 0a1.5 1.5 0 1 0 -3 0M105.4 320.99a1.5 1.5 0 1 0 3 0a1.5 1.5 0 1 0 -3 0M107.5 321.92a1.5 1.5 0 1 0 3 0a1.5 1.5 0 1 0 -3 0M109.6 323.62a1.5 1.5 0 1 0 3 0a1.5 1.5 0 1 0 -3 0M111.7 325.03a1.5 1.5 0 1 0 3 0a1.5 1.5 0 1 0 -3 0M113.8 323.52a1.5 1.5 0 1 0 3 0a1.5 1.5 0 1 0 -3 0M115.9 320.32a1.5 1.5 0 1 0 3 0a1.5 1.5 0 1 0 -3 0M118 319.86a1.5 1.5 0 1 0 3 0a1.5 1.5 0 1 0 -3 0M120.1 320.04a1.5 1.5 0 1 0 3 0a1.5 1.5 0 1 0 -3 0M122.2 319.47a1.5 1.5 0 1 0 3 0a1.5 1.5 0 1 0 -3 0M124.3 319.59a1.5 1.5 0 1 0 3 0a1.5 1.5 0 1 0 -3 0M126.4 320.49a1.5 1.5 0 1 0 3 0a1.5 1.5 0 1 0 -3 0M128.5 318.93a1.5 1.5 0 1 0 3 0a1.5 1.5 0 1 0 -3 0M130.6 319.76a1.5 1.5 0 1 0 3 0a1.5 1.5 0 1 0 -3 0M132.7 320.36a1.5 1.5 0 1 0 3 0a1.5 1.5 0 1 0 -3 0M134.8 320.12a1.5 1.5 0 1 0 3 0a1.5 1.5 0 1 0 -3 0M136.9 321.7a1.5 1.5 0 1 0 3 0a1.5 1.5 0 1 0 -3 0M139 321.42a1.5 1.5 0 1 0 3 0a1.5 1.5 0 1 0 -3 0M141.1 320.63a1.5 1.5 0 1 0 3 0a1.5 1.5 0 1 0 -3 0M143.2 320.77a1.5 1.5 0 1 0 3 0a1.5 1.5 0 1 0 -3 0M145.3 321.04a1.5 1.5 0 1 0 3 0a1.5 1.5 0 1 0 -3 0M147.4 320.11a1.5 1.5 0 1 0 3 0a1.5 1.5 0 1 0 -3 0M149.5 321.04a1.5 1.5 0 1 0 3 0a1.5 1.5 0 1 0 -3 0M151.6 321.2a1.5 1.5 0 1 0 3 0a1.5 1.5 0 1 0 -3 0M153.7 320.66a1.5 1.5 0 1 0 3 0a1.5 1.5 0 1 0 -3 0M155.8 319.52a1.5 1.5 0 1 0 3 0a1.5 1.5 0 1 0 -3 0M157.9 318.44a1.5 1.5 0 1 0 3 0a1.5 1.5 0 1 0 -3 0M160 317.86a1.5 1.5 0 1 0 3 0a1.5 1.5 0 1 0 -3 0M162.1 318.54a1.5 1.5 0 1 0 3 0a1.5 1.5 0 1 0 -3 0M164.2 318.38a1.5 1.5 0 1 0 3 0a1.5 1.5 0 1 0 -3 0M166.3 317.74a1.5 1.5 0 1 0 3 0a1.5 1.5 0 1 0 -3 0M168.4 316.3a1.5 1.5 0 1 0 3 0a1.5 1.5 0 1 0 -3 0M170.5 315.58a1.5 1.5 0 1 0 3 0a1.5 1.5 0 1 0 -3 0M172.6 316.28a1.5 1.5 0 1 0 3 0a1.5 1.5 0 1 0 -3 0M174.7 316.58a1.5 1.5 0 1 0 3 0a1.5 1.5 0 1 0 -3 0M176.8 315.12a1.5 1.5 0 1 0 3 0a1.5 1.5 0 1 0 -3 0M178.9 315.21a1.5 1.5 0 1 0 3 0a1.5 1.5 0 1 0 -3 0M181 313.66a1.5 1.5 0 1 0 3 0a1.5 1.5 0 1 0 -3 0M183.1 312.72a1.5 1.5 0 1 0 3 0a1.5 1.5 0 1 0 -3 0M185.2 311.7a1.5 1.5 0 1 0 3 0a1.5 1.5 0 1 0 -3 0M187.3 306.89a1.5 1.5 0 1 0 3 0a1.5 1.5 0 1 0 -3 0M189.4 307.14a1.5 1.5 0 1 0 3 0a1.5 1.5 0 1 0 -3 0M191.5 306.81a1.5 1.5 0 1 0 3 0a1.5 1.5 0 1 0 -3 0M193.6 308.08a1.5 1.5 0 1 0 3 0a1.5 1.5 0 1 0 -3 0M195.7 308.53a1.5 1.5 0 1 0 3 0a1.5 1.5 0 1 0 -3 0M197.8 309.74a1.5 1.5 0 1 0 3 0a1.5 1.5 0 1 0 -3 0M199.9 310.27a1.5 1.5 0 1 0 3 0a1.5 1.5 0 1 0 -3 0M202 309.91a1.5 1.5 0 1 0 3 0a1.5 1.5 0 1 0 -3 0M204.1 307.69a1.5 1.5 0 1 0 3 0a1.5 1.5 0 1 0 -3 0M206.2 307.2a1.5 1.5 0 1 0 3 0a1.5 1.5 0 1 0 -3 0M208.3 301.66a1.5 1.5 0 1 0 3 0a1.5 1.5 0 1 0 -3 0M210.4 295.42a1.5 1.5 0 1 0 3 0a1.5 1.5 0 1 0 -3 0M212.5 295.72a1.5 1.5 0 1 0 3 0a1.5 1.5 0 1 0 -3 0M214.6 296.47a1.5 1.5 0 1 0 3 0a1.5 1.5 0 1 0 -3 0M216.7 295.63a1.5 1.5 0 1 0 3 0a1.5 1.5 0 1 0 -3 0M218.8 297.07a1.5 1.5 0 1 0 3 0a1.5 1.5 0 1 0 -3 0M220.9 299a1.5 1.5 0 1 0 3 0a1.5 1.5 0 1 0 -3 0M223 300.5a1.5 1.5 0 1 0 3 0a1.5 1.5 0 1 0 -3 0M225.1 302.42a1.5 1.5 0 1 0 3 0a1.5 1.5 0 1 0 -3 0M227.2 301.55a1.5 1.5 0 1 0 3 0a1.5 1.5 0 1 0 -3 0M229.3 301.36a1.5 1.5 0 1 0 3 0a1.5 1.5 0 1 0 -3 0M231.4 301.99a1.5 1.5 0 1 0 3 0a1.5 1.5 0 1 0 -3 0M233.5 301.15a1.5 1.5 0 1 0 3 0a1.5 1.5 0 1 0 -3 0M235.6 299.59a1.5 1.5 0 1 0 3 0a1.5 1.5 0 1 0 -3 0M237.7 297.74a1.5 1.5 0 1 0 3 0a1.5 1.5 0 1 0 -3 0M239.8 297.2a1.5 1.5 0 1 0 3 0a1.5 1.5 0 1 0 -3 0M241.9 296.81a1.5 1.5 0 1 0 3 0a1.5 1.5 0 1 0 -3 0M244 297.04a1.5 1.5 0 1 0 3 0a1.5 1.5 0 1 0 -3 0M246.1 295.45a1.5 1.5 0 1 0 3 0a1.5 1.5 0 1 0 -3 0M248.2 294.48a1.5 1.5 0 1 0 3 0a1.5 1.5 0 1 0 -3 0M250.3 292.12a1.5 1.5 0 1 0 3 0a1.5 1.5 0 1 0 -3 0M252.4 290.1a1.5 1.5 0 1 0 3 0a1.5 1.5 0 1 0 -3 0M254.5 295a1.5 1.5 0 1 0 3 0a1.5 1.5 0 1 0 -3 0M256.6 297.9a1.5 1.5 0 1 0 3 0a1.5 1.5 0 1 0 -3 0M258.7 299.94a1.5 1.5 0 1 0 3 0a1.5 1.5 0 1 0 -3 0M260.8 305.51a1.5 1.5 0 1 0 3 0a1.5 1.5 0 1 0 -3 0M262.9 311.07a1.5 1.5 0 1 0 3 0a1.5 1.5 0 1 0 -3 0M265 316.33a1.5 1.5 0 1 0 3 0a1.5 1.5 0 1 0 -3 0M267.1 314.14a1.5 1.5 0 1 0 3 0a1.5 1.5 0 1 0 -3 0M269.2 315.71a1.5 1.5 0 1 0 3 0a1.5 1.5 0 1 0 -3 0M271.3 320.06a1.5 1.5 0 1 0 3 0a1.5 1.5 0 1 0 -3 0M273.4 322.65a1.5 1.5 0 1 0 3 0a1.5 1.5 0 1 0 -3 0M275.5 322.07a1.5 1.5 0 1 0 3 0a1.5 1.5 0 1 0 -3 0M277.6 324.12a1.5 1.5 0 1 0 3 0a1.5 1.5 0 1 0 -3 0M279.7 325.1a1.5 1.5 0 1 0 3 0a1.5 1.5 0 1 0 -3 0M281.8 324.68a1.5 1.5 0 1 0 3 0a1.5 1.5 0 1 0 -3 0M283.9 326.43a1.5 1.5 0 1 0 3 0a1.5 1.5 0 1 0 -3 0M286 328.06a1.5 1.5 0 1 0 3 0a1.5 1.5 0 1 0 -3 0M288.1 325.68a1.5 1.5 0 1 0 3 0a1.5 1.5 0 1 0 -3 0M290.2 323.4a1.5 1.5 0 1 0 3 0a1.5 1.5 0 1 0 -3 0M292.3 326a1.5 1.5 0 1 0 3 0a1.5 1.5 0 1 0 -3 0M294.4 327.74a1.5 1.5 0 1 0 3 0a1.5 1.5 0 1 0 -3 0M296.5 329.96a1.5 1.5 0 1 0 3 0a1.5 1.5 0 1 0 -3 0M298.6 329.84a1.5 1.5 0 1 0 3 0a1.5 1.5 0 1 0 -3 0M300.7 331.48a1.5 1.5 0 1 0 3 0a1.5 1.5 0 1 0 -3 0M302.8 331.83a1.5 1.5 0 1 0 3 0a1.5 1.5 0 1 0 -3 0M304.9 329.81a1.5 1.5 0 1 0 3 0a1.5 1.5 0 1 0 -3 0M307 327.87a1.5 1.5 0 1 0 3 0a1.5 1.5 0 1 0 -3 0M309.1 327.81a1.5 1.5 0 1 0 3 0a1.5 1.5 0 1 0 -3 0M311.2 331.71a1.5 1.5 0 1 0 3 0a1.5 1.5 0 1 0 -3 0M313.3 336.81a1.5 1.5 0 1 0 3 0a1.5 1.5 0 1 0 -3 0M315.4 342.17a1.5 1.5 0 1 0 3 0a1.5 1.5 0 1 0 -3 0M317.5 344.5a1.5 1.5 0 1 0 3 0a1.5 1.5 0 1 0 -3 0M319.6 346.37a1.5 1.5 0 1 0 3 0a1.5 1.5 0 1 0 -3 0M321.7 349.01a1.5 1.5 0 1 0 3 0a1.5 1.5 0 1 0 -3 0M323.8 349.93a1.5 1.5 0 1 0 3 0a1.5 1.5 0 1 0 -3 0" fill="#f28282" stroke="#c86060" stroke-width="0.4"/>
<path d="M327.25 364.7a1.55 1.55 0 1 0 3.1 0a1.55 1.55 0 1 0 -3.1 0" fill="#f08080" stroke="#cc6060" stroke-width="0.4"/>
<text x="21.8" y="240.88" font-size="7.3" text-anchor="end" fill="#222" style="color:#222" font-weight="normal" >60</text>
<text x="21.8" y="275.42" font-size="7.3" text-anchor="end" fill="#222" style="color:#222" font-weight="normal" >40</text>
<text x="21.8" y="309.96" font-size="7.3" text-anchor="end" fill="#222" style="color:#222" font-weight="normal" >20</text>
<text x="21.8" y="344.5" font-size="7.3" text-anchor="end" fill="#222" style="color:#222" font-weight="normal" >0</text>
<text x="21.8" y="379.04" font-size="7.3" text-anchor="end" fill="#222" style="color:#222" font-weight="normal" >-20</text>
<text x="64.1" y="408" font-size="7.5" text-anchor="middle" fill="#222" style="color:#222" font-weight="normal" >2020/05/30</text>
<text x="119.7" y="408" font-size="7.5" text-anchor="middle" fill="#222" style="color:#222" font-weight="normal" >2020/12/16</text>
<text x="175.3" y="408" font-size="7.5" text-anchor="middle" fill="#222" style="color:#222" font-weight="normal" >2021/07/04</text>
<text x="230.9" y="408" font-size="7.5" text-anchor="middle" fill="#222" style="color:#222" font-weight="normal" >2022/01/20</text>
<text x="286.5" y="408" font-size="7.5" text-anchor="middle" fill="#222" style="color:#222" font-weight="normal" >2022/08/08</text>
<text x="177.2" y="415.8" font-size="7.6" text-anchor="middle" fill="#222" style="color:#222" font-weight="normal" >Time</text>
<text transform="translate(6.9,309.7) rotate(-90)" font-size="8" text-anchor="middle" fill="#222" style="color:#222" textLength="87.8" lengthAdjust="spacing">Cumulative Deformation/mm</text>
<text x="2.3" y="223.6" font-size="11.6" text-anchor="start" fill="#111" style="color:#111" font-weight="bold" >(c)</text>
<rect x="33.2" y="226.3" width="31.5" height="49.2" fill="#fff" stroke="#777" stroke-width="0.9"/>
<rect x="39.1" y="232.4" width="5.8" height="5.2" fill="#d8bcd8"/>
<text x="47.4" y="237.6" font-size="7.3" text-anchor="start" fill="#222" style="color:#222" font-weight="normal" >P9</text>
<rect x="39.1" y="243.5" width="5.8" height="5.2" fill="#ff0000"/>
<text x="47.4" y="248.7" font-size="7.3" text-anchor="start" fill="#222" style="color:#222" font-weight="normal" >P10</text>
<rect x="39.1" y="254.6" width="5.8" height="5.2" fill="#008000"/>
<text x="47.4" y="259.8" font-size="7.3" text-anchor="start" fill="#222" style="color:#222" font-weight="normal" >P11</text>
<rect x="39.1" y="265.7" width="5.8" height="5.2" fill="#0000ff"/>
<text x="47.4" y="270.9" font-size="7.3" text-anchor="start" fill="#222" style="color:#222" font-weight="normal" >P12</text>
<path d="M375.5 221V399.8" stroke="#777777" stroke-width="1"/>
<path d="M682 221V399.8" stroke="#777777" stroke-width="1"/>
<path d="M375 221.5H682.5" stroke="#777777" stroke-width="1"/>
<path d="M375 399.3H682.5" stroke="#777777" stroke-width="1"/>
<path d="M375.5 228.66h5.3M682 228.66h-5.3M375.5 253.04h5.3M682 253.04h-5.3M375.5 277.42h5.3M682 277.42h-5.3M375.5 301.8h5.3M682 301.8h-5.3M375.5 326.18h5.3M682 326.18h-5.3M375.5 350.56h5.3M682 350.56h-5.3M375.5 374.94h5.3M682 374.94h-5.3M375.5 399.32h5.3M682 399.32h-5.3M375.5 393.23h2.5M682 393.23h-2.5M375.5 387.13h2.5M682 387.13h-2.5M375.5 381.04h2.5M682 381.04h-2.5M375.5 368.85h2.5M682 368.85h-2.5M375.5 362.75h2.5M682 362.75h-2.5M375.5 356.66h2.5M682 356.66h-2.5M375.5 344.47h2.5M682 344.47h-2.5M375.5 338.37h2.5M682 338.37h-2.5M375.5 332.28h2.5M682 332.28h-2.5M375.5 320.09h2.5M682 320.09h-2.5M375.5 313.99h2.5M682 313.99h-2.5M375.5 307.9h2.5M682 307.9h-2.5M375.5 295.7h2.5M682 295.7h-2.5M375.5 289.61h2.5M682 289.61h-2.5M375.5 283.51h2.5M682 283.51h-2.5M375.5 271.32h2.5M682 271.32h-2.5M375.5 265.23h2.5M682 265.23h-2.5M375.5 259.13h2.5M682 259.13h-2.5M375.5 246.94h2.5M682 246.94h-2.5M375.5 240.85h2.5M682 240.85h-2.5M375.5 234.75h2.5M682 234.75h-2.5M375.5 222.56h2.5M682 222.56h-2.5" stroke="#8c8c8c" stroke-width="1" fill="none"/>
<path d="M414.4 399.3v-3.5M414.4 221.5v3.5M470.5 399.3v-3.5M470.5 221.5v3.5M526.6 399.3v-3.5M526.6 221.5v3.5M582.7 399.3v-3.5M582.7 221.5v3.5M638.8 399.3v-3.5M638.8 221.5v3.5M386.34 399.3v-1.8M386.34 221.5v1.8M400.37 399.3v-1.8M400.37 221.5v1.8M428.43 399.3v-1.8M428.43 221.5v1.8M442.46 399.3v-1.8M442.46 221.5v1.8M456.49 399.3v-1.8M456.49 221.5v1.8M484.55 399.3v-1.8M484.55 221.5v1.8M498.58 399.3v-1.8M498.58 221.5v1.8M512.61 399.3v-1.8M512.61 221.5v1.8M540.67 399.3v-1.8M540.67 221.5v1.8M554.7 399.3v-1.8M554.7 221.5v1.8M568.73 399.3v-1.8M568.73 221.5v1.8M596.79 399.3v-1.8M596.79 221.5v1.8M610.82 399.3v-1.8M610.82 221.5v1.8M624.85 399.3v-1.8M624.85 221.5v1.8M652.91 399.3v-1.8M652.91 221.5v1.8M666.94 399.3v-1.8M666.94 221.5v1.8M680.97 399.3v-1.8M680.97 221.5v1.8" stroke="#8c8c8c" stroke-width="1" fill="none"/>
<path d="M373.5 299.36a1.5 1.5 0 1 0 3 0a1.5 1.5 0 1 0 -3 0M376.4 299.57a1.5 1.5 0 1 0 3 0a1.5 1.5 0 1 0 -3 0M379.3 301.01a1.5 1.5 0 1 0 3 0a1.5 1.5 0 1 0 -3 0M382.2 301.17a1.5 1.5 0 1 0 3 0a1.5 1.5 0 1 0 -3 0M385.1 300.72a1.5 1.5 0 1 0 3 0a1.5 1.5 0 1 0 -3 0M388 298.89a1.5 1.5 0 1 0 3 0a1.5 1.5 0 1 0 -3 0M390.9 298.53a1.5 1.5 0 1 0 3 0a1.5 1.5 0 1 0 -3 0M393.8 296.98a1.5 1.5 0 1 0 3 0a1.5 1.5 0 1 0 -3 0M396.7 297.02a1.5 1.5 0 1 0 3 0a1.5 1.5 0 1 0 -3 0M399.6 293.84a1.5 1.5 0 1 0 3 0a1.5 1.5 0 1 0 -3 0M402.5 293.44a1.5 1.5 0 1 0 3 0a1.5 1.5 0 1 0 -3 0M405.4 293.93a1.5 1.5 0 1 0 3 0a1.5 1.5 0 1 0 -3 0M408.3 291.35a1.5 1.5 0 1 0 3 0a1.5 1.5 0 1 0 -3 0M411.2 295.41a1.5 1.5 0 1 0 3 0a1.5 1.5 0 1 0 -3 0M413.2 294.13a1.5 1.5 0 1 0 3 0a1.5 1.5 0 1 0 -3 0M415.2 293.8a1.5 1.5 0 1 0 3 0a1.5 1.5 0 1 0 -3 0M417.2 291.52a1.5 1.5 0 1 0 3 0a1.5 1.5 0 1 0 -3 0M419.2 290.49a1.5 1.5 0 1 0 3 0a1.5 1.5 0 1 0 -3 0M421.2 289.37a1.5 1.5 0 1 0 3 0a1.5 1.5 0 1 0 -3 0M423.2 291.18a1.5 1.5 0 1 0 3 0a1.5 1.5 0 1 0 -3 0M425.2 290.81a1.5 1.5 0 1 0 3 0a1.5 1.5 0 1 0 -3 0M427.2 291.27a1.5 1.5 0 1 0 3 0a1.5 1.5 0 1 0 -3 0M429.2 292.73a1.5 1.5 0 1 0 3 0a1.5 1.5 0 1 0 -3 0M431.2 293.98a1.5 1.5 0 1 0 3 0a1.5 1.5 0 1 0 -3 0M433.2 295.05a1.5 1.5 0 1 0 3 0a1.5 1.5 0 1 0 -3 0M435.2 296.48a1.5 1.5 0 1 0 3 0a1.5 1.5 0 1 0 -3 0M437.2 297.82a1.5 1.5 0 1 0 3 0a1.5 1.5 0 1 0 -3 0M439.2 296.09a1.5 1.5 0 1 0 3 0a1.5 1.5 0 1 0 -3 0M441.2 297.23a1.5 1.5 0 1 0 3 0a1.5 1.5 0 1 0 -3 0M443.2 295.17a1.5 1.5 0 1 0 3 0a1.5 1.5 0 1 0 -3 0M445.2 294.94a1.5 1.5 0 1 0 3 0a1.5 1.5 0 1 0 -3 0M447.2 295.53a1.5 1.5 0 1 0 3 0a1.5 1.5 0 1 0 -3 0M449.2 294.76a1.5 1.5 0 1 0 3 0a1.5 1.5 0 1 0 -3 0M451.2 295.2a1.5 1.5 0 1 0 3 0a1.5 1.5 0 1 0 -3 0M453.2 296.59a1.5 1.5 0 1 0 3 0a1.5 1.5 0 1 0 -3 0M455.2 296.42a1.5 1.5 0 1 0 3 0a1.5 1.5 0 1 0 -3 0M457.2 295.92a1.5 1.5 0 1 0 3 0a1.5 1.5 0 1 0 -3 0M459.2 294.81a1.5 1.5 0 1 0 3 0a1.5 1.5 0 1 0 -3 0M461.2 294.83a1.5 1.5 0 1 0 3 0a1.5 1.5 0 1 0 -3 0M463.2 295.08a1.5 1.5 0 1 0 3 0a1.5 1.5 0 1 0 -3 0M465.2 294.8a1.5 1.5 0 1 0 3 0a1.5 1.5 0 1 0 -3 0M467.2 295.86a1.5 1.5 0 1 0 3 0a1.5 1.5 0 1 0 -3 0M469.2 294.57a1.5 1.5 0 1 0 3 0a1.5 1.5 0 1 0 -3 0M471.2 296.42a1.5 1.5 0 1 0 3 0a1.5 1.5 0 1 0 -3 0M473.2 295.95a1.5 1.5 0 1 0 3 0a1.5 1.5 0 1 0 -3 0M475.2 296.89a1.5 1.5 0 1 0 3 0a1.5 1.5 0 1 0 -3 0M477.2 296.65a1.5 1.5 0 1 0 3 0a1.5 1.5 0 1 0 -3 0M479.2 295.79a1.5 1.5 0 1 0 3 0a1.5 1.5 0 1 0 -3 0M481.2 295.22a1.5 1.5 0 1 0 3 0a1.5 1.5 0 1 0 -3 0M483.2 297.32a1.5 1.5 0 1 0 3 0a1.5 1.5 0 1 0 -3 0M485.2 295.41a1.5 1.5 0 1 0 3 0a1.5 1.5 0 1 0 -3 0M487.2 296.23a1.5 1.5 0 1 0 3 0a1.5 1.5 0 1 0 -3 0M489.2 295.92a1.5 1.5 0 1 0 3 0a1.5 1.5 0 1 0 -3 0M491.2 295.75a1.5 1.5 0 1 0 3 0a1.5 1.5 0 1 0 -3 0M493.2 296.55a1.5 1.5 0 1 0 3 0a1.5 1.5 0 1 0 -3 0M495.2 296.86a1.5 1.5 0 1 0 3 0a1.5 1.5 0 1 0 -3 0M497.2 294.88a1.5 1.5 0 1 0 3 0a1.5 1.5 0 1 0 -3 0M499.2 295.48a1.5 1.5 0 1 0 3 0a1.5 1.5 0 1 0 -3 0M501.2 294.13a1.5 1.5 0 1 0 3 0a1.5 1.5 0 1 0 -3 0M503.2 294.25a1.5 1.5 0 1 0 3 0a1.5 1.5 0 1 0 -3 0M505.2 293.37a1.5 1.5 0 1 0 3 0a1.5 1.5 0 1 0 -3 0M507.2 292.27a1.5 1.5 0 1 0 3 0a1.5 1.5 0 1 0 -3 0M509.2 291.66a1.5 1.5 0 1 0 3 0a1.5 1.5 0 1 0 -3 0M511.2 291.18a1.5 1.5 0 1 0 3 0a1.5 1.5 0 1 0 -3 0M513.2 291.63a1.5 1.5 0 1 0 3 0a1.5 1.5 0 1 0 -3 0M515.2 289.16a1.5 1.5 0 1 0 3 0a1.5 1.5 0 1 0 -3 0M517.2 288.5a1.5 1.5 0 1 0 3 0a1.5 1.5 0 1 0 -3 0M519.2 290.65a1.5 1.5 0 1 0 3 0a1.5 1.5 0 1 0 -3 0M521.2 291.35a1.5 1.5 0 1 0 3 0a1.5 1.5 0 1 0 -3 0M523.2 290.5a1.5 1.5 0 1 0 3 0a1.5 1.5 0 1 0 -3 0M525.2 290.21a1.5 1.5 0 1 0 3 0a1.5 1.5 0 1 0 -3 0M527.2 290.81a1.5 1.5 0 1 0 3 0a1.5 1.5 0 1 0 -3 0M529.2 291.06a1.5 1.5 0 1 0 3 0a1.5 1.5 0 1 0 -3 0M531.2 292.15a1.5 1.5 0 1 0 3 0a1.5 1.5 0 1 0 -3 0M533.2 292.05a1.5 1.5 0 1 0 3 0a1.5 1.5 0 1 0 -3 0M535.2 293.07a1.5 1.5 0 1 0 3 0a1.5 1.5 0 1 0 -3 0M537.2 293.88a1.5 1.5 0 1 0 3 0a1.5 1.5 0 1 0 -3 0M539.2 295.39a1.5 1.5 0 1 0 3 0a1.5 1.5 0 1 0 -3 0M541.2 296.91a1.5 1.5 0 1 0 3 0a1.5 1.5 0 1 0 -3 0M543.2 295.84a1.5 1.5 0 1 0 3 0a1.5 1.5 0 1 0 -3 0M545.2 294.02a1.5 1.5 0 1 0 3 0a1.5 1.5 0 1 0 -3 0M547.2 293.01a1.5 1.5 0 1 0 3 0a1.5 1.5 0 1 0 -3 0M549.2 292.26a1.5 1.5 0 1 0 3 0a1.5 1.5 0 1 0 -3 0M551.2 290.9a1.5 1.5 0 1 0 3 0a1.5 1.5 0 1 0 -3 0M553.2 289.81a1.5 1.5 0 1 0 3 0a1.5 1.5 0 1 0 -3 0M555.2 288.28a1.5 1.5 0 1 0 3 0a1.5 1.5 0 1 0 -3 0M557.2 289.15a1.5 1.5 0 1 0 3 0a1.5 1.5 0 1 0 -3 0M559.2 291.16a1.5 1.5 0 1 0 3 0a1.5 1.5 0 1 0 -3 0M561.2 289.24a1.5 1.5 0 1 0 3 0a1.5 1.5 0 1 0 -3 0M563.2 289.49a1.5 1.5 0 1 0 3 0a1.5 1.5 0 1 0 -3 0M565.2 289.14a1.5 1.5 0 1 0 3 0a1.5 1.5 0 1 0 -3 0M567.2 288.55a1.5 1.5 0 1 0 3 0a1.5 1.5 0 1 0 -3 0M569.2 284.95a1.5 1.5 0 1 0 3 0a1.5 1.5 0 1 0 -3 0M571.2 282.49a1.5 1.5 0 1 0 3 0a1.5 1.5 0 1 0 -3 0M573.2 279.2a1.5 1.5 0 1 0 3 0a1.5 1.5 0 1 0 -3 0M575.2 269.79a1.5 1.5 0 1 0 3 0a1.5 1.5 0 1 0 -3 0M577.2 266.59a1.5 1.5 0 1 0 3 0a1.5 1.5 0 1 0 -3 0M579.2 266.17a1.5 1.5 0 1 0 3 0a1.5 1.5 0 1 0 -3 0M581.2 265.39a1.5 1.5 0 1 0 3 0a1.5 1.5 0 1 0 -3 0M583.2 264.94a1.5 1.5 0 1 0 3 0a1.5 1.5 0 1 0 -3 0M585.2 262.38a1.5 1.5 0 1 0 3 0a1.5 1.5 0 1 0 -3 0M587.2 261.17a1.5 1.5 0 1 0 3 0a1.5 1.5 0 1 0 -3 0M589.2 261.32a1.5 1.5 0 1 0 3 0a1.5 1.5 0 1 0 -3 0M591.2 259.57a1.5 1.5 0 1 0 3 0a1.5 1.5 0 1 0 -3 0M593.2 256.21a1.5 1.5 0 1 0 3 0a1.5 1.5 0 1 0 -3 0M595.2 254a1.5 1.5 0 1 0 3 0a1.5 1.5 0 1 0 -3 0M597.2 250.1a1.5 1.5 0 1 0 3 0a1.5 1.5 0 1 0 -3 0M599.2 250.12a1.5 1.5 0 1 0 3 0a1.5 1.5 0 1 0 -3 0M601.2 250.89a1.5 1.5 0 1 0 3 0a1.5 1.5 0 1 0 -3 0M603.2 250.38a1.5 1.5 0 1 0 3 0a1.5 1.5 0 1 0 -3 0M605.2 250.45a1.5 1.5 0 1 0 3 0a1.5 1.5 0 1 0 -3 0M607.2 250.61a1.5 1.5 0 1 0 3 0a1.5 1.5 0 1 0 -3 0M609.2 248.4a1.5 1.5 0 1 0 3 0a1.5 1.5 0 1 0 -3 0M611.2 247.59a1.5 1.5 0 1 0 3 0a1.5 1.5 0 1 0 -3 0M613.2 241.97a1.5 1.5 0 1 0 3 0a1.5 1.5 0 1 0 -3 0M615.2 240.87a1.5 1.5 0 1 0 3 0a1.5 1.5 0 1 0 -3 0M617.2 240.28a1.5 1.5 0 1 0 3 0a1.5 1.5 0 1 0 -3 0M619.2 240.3a1.5 1.5 0 1 0 3 0a1.5 1.5 0 1 0 -3 0M621.2 239.47a1.5 1.5 0 1 0 3 0a1.5 1.5 0 1 0 -3 0M623.2 239a1.5 1.5 0 1 0 3 0a1.5 1.5 0 1 0 -3 0M625.2 238.67a1.5 1.5 0 1 0 3 0a1.5 1.5 0 1 0 -3 0M627.2 237.33a1.5 1.5 0 1 0 3 0a1.5 1.5 0 1 0 -3 0M629.2 238.22a1.5 1.5 0 1 0 3 0a1.5 1.5 0 1 0 -3 0M631.2 237.74a1.5 1.5 0 1 0 3 0a1.5 1.5 0 1 0 -3 0M633.2 240.53a1.5 1.5 0 1 0 3 0a1.5 1.5 0 1 0 -3 0M635.2 239.01a1.5 1.5 0 1 0 3 0a1.5 1.5 0 1 0 -3 0M637.2 238.99a1.5 1.5 0 1 0 3 0a1.5 1.5 0 1 0 -3 0M639.2 238.83a1.5 1.5 0 1 0 3 0a1.5 1.5 0 1 0 -3 0M641.2 239.68a1.5 1.5 0 1 0 3 0a1.5 1.5 0 1 0 -3 0M643.2 238.09a1.5 1.5 0 1 0 3 0a1.5 1.5 0 1 0 -3 0M645.2 236.78a1.5 1.5 0 1 0 3 0a1.5 1.5 0 1 0 -3 0M647.2 237.2a1.5 1.5 0 1 0 3 0a1.5 1.5 0 1 0 -3 0M649.2 234.73a1.5 1.5 0 1 0 3 0a1.5 1.5 0 1 0 -3 0M651.2 229.24a1.5 1.5 0 1 0 3 0a1.5 1.5 0 1 0 -3 0M653.2 226.84a1.5 1.5 0 1 0 3 0a1.5 1.5 0 1 0 -3 0M655.2 228.14a1.5 1.5 0 1 0 3 0a1.5 1.5 0 1 0 -3 0M657.2 229.87a1.5 1.5 0 1 0 3 0a1.5 1.5 0 1 0 -3 0M659.2 230.73a1.5 1.5 0 1 0 3 0a1.5 1.5 0 1 0 -3 0M661.2 231.17a1.5 1.5 0 1 0 3 0a1.5 1.5 0 1 0 -3 0M663.2 231.41a1.5 1.5 0 1 0 3 0a1.5 1.5 0 1 0 -3 0M665.2 229.48a1.5 1.5 0 1 0 3 0a1.5 1.5 0 1 0 -3 0M667.2 229.84a1.5 1.5 0 1 0 3 0a1.5 1.5 0 1 0 -3 0M669.2 230.54a1.5 1.5 0 1 0 3 0a1.5 1.5 0 1 0 -3 0M671.2 232.4a1.5 1.5 0 1 0 3 0a1.5 1.5 0 1 0 -3 0M673.2 230.9a1.5 1.5 0 1 0 3 0a1.5 1.5 0 1 0 -3 0M675.2 230.55a1.5 1.5 0 1 0 3 0a1.5 1.5 0 1 0 -3 0M677.2 230.07a1.5 1.5 0 1 0 3 0a1.5 1.5 0 1 0 -3 0M679.2 229.99a1.5 1.5 0 1 0 3 0a1.5 1.5 0 1 0 -3 0M679.9 230.19a1.5 1.5 0 1 0 3 0a1.5 1.5 0 1 0 -3 0" fill="#eedcf2" stroke="#a484b4" stroke-width="0.5"/>
<path d="M376.5 302.61a1.5 1.5 0 1 0 3 0a1.5 1.5 0 1 0 -3 0M379.4 302.47a1.5 1.5 0 1 0 3 0a1.5 1.5 0 1 0 -3 0M382.3 302a1.5 1.5 0 1 0 3 0a1.5 1.5 0 1 0 -3 0M385.2 302a1.5 1.5 0 1 0 3 0a1.5 1.5 0 1 0 -3 0M388.1 303.6a1.5 1.5 0 1 0 3 0a1.5 1.5 0 1 0 -3 0M391 303.87a1.5 1.5 0 1 0 3 0a1.5 1.5 0 1 0 -3 0M393.9 301.04a1.5 1.5 0 1 0 3 0a1.5 1.5 0 1 0 -3 0M396.8 300.68a1.5 1.5 0 1 0 3 0a1.5 1.5 0 1 0 -3 0M399.7 301.19a1.5 1.5 0 1 0 3 0a1.5 1.5 0 1 0 -3 0M402.6 300.05a1.5 1.5 0 1 0 3 0a1.5 1.5 0 1 0 -3 0M405.5 300.59a1.5 1.5 0 1 0 3 0a1.5 1.5 0 1 0 -3 0M408.4 302.09a1.5 1.5 0 1 0 3 0a1.5 1.5 0 1 0 -3 0M411.3 308.79a1.5 1.5 0 1 0 3 0a1.5 1.5 0 1 0 -3 0M413.3 308.36a1.5 1.5 0 1 0 3 0a1.5 1.5 0 1 0 -3 0M415.3 309.59a1.5 1.5 0 1 0 3 0a1.5 1.5 0 1 0 -3 0M417.3 309.43a1.5 1.5 0 1 0 3 0a1.5 1.5 0 1 0 -3 0M419.3 312.28a1.5 1.5 0 1 0 3 0a1.5 1.5 0 1 0 -3 0M421.3 313.63a1.5 1.5 0 1 0 3 0a1.5 1.5 0 1 0 -3 0M423.3 315.49a1.5 1.5 0 1 0 3 0a1.5 1.5 0 1 0 -3 0M425.3 317.29a1.5 1.5 0 1 0 3 0a1.5 1.5 0 1 0 -3 0M427.3 319.59a1.5 1.5 0 1 0 3 0a1.5 1.5 0 1 0 -3 0M429.3 318.52a1.5 1.5 0 1 0 3 0a1.5 1.5 0 1 0 -3 0M431.3 321.27a1.5 1.5 0 1 0 3 0a1.5 1.5 0 1 0 -3 0M433.3 321.3a1.5 1.5 0 1 0 3 0a1.5 1.5 0 1 0 -3 0M435.3 322.28a1.5 1.5 0 1 0 3 0a1.5 1.5 0 1 0 -3 0M437.3 325a1.5 1.5 0 1 0 3 0a1.5 1.5 0 1 0 -3 0M439.3 326.57a1.5 1.5 0 1 0 3 0a1.5 1.5 0 1 0 -3 0M441.3 327.08a1.5 1.5 0 1 0 3 0a1.5 1.5 0 1 0 -3 0M443.3 325.04a1.5 1.5 0 1 0 3 0a1.5 1.5 0 1 0 -3 0M445.3 325.3a1.5 1.5 0 1 0 3 0a1.5 1.5 0 1 0 -3 0M447.3 325.38a1.5 1.5 0 1 0 3 0a1.5 1.5 0 1 0 -3 0M449.3 325.69a1.5 1.5 0 1 0 3 0a1.5 1.5 0 1 0 -3 0M451.3 327.76a1.5 1.5 0 1 0 3 0a1.5 1.5 0 1 0 -3 0M453.3 328.95a1.5 1.5 0 1 0 3 0a1.5 1.5 0 1 0 -3 0M455.3 326.56a1.5 1.5 0 1 0 3 0a1.5 1.5 0 1 0 -3 0M457.3 326.65a1.5 1.5 0 1 0 3 0a1.5 1.5 0 1 0 -3 0M459.3 325.7a1.5 1.5 0 1 0 3 0a1.5 1.5 0 1 0 -3 0M461.3 326.93a1.5 1.5 0 1 0 3 0a1.5 1.5 0 1 0 -3 0M463.3 324.96a1.5 1.5 0 1 0 3 0a1.5 1.5 0 1 0 -3 0M465.3 327.37a1.5 1.5 0 1 0 3 0a1.5 1.5 0 1 0 -3 0M467.3 328.79a1.5 1.5 0 1 0 3 0a1.5 1.5 0 1 0 -3 0M469.3 330.59a1.5 1.5 0 1 0 3 0a1.5 1.5 0 1 0 -3 0M471.3 332.42a1.5 1.5 0 1 0 3 0a1.5 1.5 0 1 0 -3 0M473.3 332.94a1.5 1.5 0 1 0 3 0a1.5 1.5 0 1 0 -3 0M475.3 333.13a1.5 1.5 0 1 0 3 0a1.5 1.5 0 1 0 -3 0M477.3 334.23a1.5 1.5 0 1 0 3 0a1.5 1.5 0 1 0 -3 0M479.3 334.53a1.5 1.5 0 1 0 3 0a1.5 1.5 0 1 0 -3 0M481.3 333.52a1.5 1.5 0 1 0 3 0a1.5 1.5 0 1 0 -3 0M483.3 333.52a1.5 1.5 0 1 0 3 0a1.5 1.5 0 1 0 -3 0M485.3 335.67a1.5 1.5 0 1 0 3 0a1.5 1.5 0 1 0 -3 0M487.3 335.49a1.5 1.5 0 1 0 3 0a1.5 1.5 0 1 0 -3 0M489.3 333.78a1.5 1.5 0 1 0 3 0a1.5 1.5 0 1 0 -3 0M491.3 335.29a1.5 1.5 0 1 0 3 0a1.5 1.5 0 1 0 -3 0M493.3 334.49a1.5 1.5 0 1 0 3 0a1.5 1.5 0 1 0 -3 0M495.3 334.13a1.5 1.5 0 1 0 3 0a1.5 1.5 0 1 0 -3 0M497.3 333.69a1.5 1.5 0 1 0 3 0a1.5 1.5 0 1 0 -3 0M499.3 333.26a1.5 1.5 0 1 0 3 0a1.5 1.5 0 1 0 -3 0M501.3 333.21a1.5 1.5 0 1 0 3 0a1.5 1.5 0 1 0 -3 0M503.3 334.22a1.5 1.5 0 1 0 3 0a1.5 1.5 0 1 0 -3 0M505.3 334.57a1.5 1.5 0 1 0 3 0a1.5 1.5 0 1 0 -3 0M507.3 336.07a1.5 1.5 0 1 0 3 0a1.5 1.5 0 1 0 -3 0M509.3 333.9a1.5 1.5 0 1 0 3 0a1.5 1.5 0 1 0 -3 0M511.3 335.43a1.5 1.5 0 1 0 3 0a1.5 1.5 0 1 0 -3 0M513.3 333.2a1.5 1.5 0 1 0 3 0a1.5 1.5 0 1 0 -3 0M515.3 333.28a1.5 1.5 0 1 0 3 0a1.5 1.5 0 1 0 -3 0M517.3 335.87a1.5 1.5 0 1 0 3 0a1.5 1.5 0 1 0 -3 0M519.3 338.79a1.5 1.5 0 1 0 3 0a1.5 1.5 0 1 0 -3 0M521.3 337.85a1.5 1.5 0 1 0 3 0a1.5 1.5 0 1 0 -3 0M523.3 336.2a1.5 1.5 0 1 0 3 0a1.5 1.5 0 1 0 -3 0M525.3 338a1.5 1.5 0 1 0 3 0a1.5 1.5 0 1 0 -3 0M527.3 339.37a1.5 1.5 0 1 0 3 0a1.5 1.5 0 1 0 -3 0M529.3 343.56a1.5 1.5 0 1 0 3 0a1.5 1.5 0 1 0 -3 0M531.3 343.34a1.5 1.5 0 1 0 3 0a1.5 1.5 0 1 0 -3 0M533.3 344.92a1.5 1.5 0 1 0 3 0a1.5 1.5 0 1 0 -3 0M535.3 345.81a1.5 1.5 0 1 0 3 0a1.5 1.5 0 1 0 -3 0M537.3 344.19a1.5 1.5 0 1 0 3 0a1.5 1.5 0 1 0 -3 0M539.3 346.12a1.5 1.5 0 1 0 3 0a1.5 1.5 0 1 0 -3 0M541.3 347.4a1.5 1.5 0 1 0 3 0a1.5 1.5 0 1 0 -3 0M543.3 347.01a1.5 1.5 0 1 0 3 0a1.5 1.5 0 1 0 -3 0M545.3 345.95a1.5 1.5 0 1 0 3 0a1.5 1.5 0 1 0 -3 0M547.3 346.93a1.5 1.5 0 1 0 3 0a1.5 1.5 0 1 0 -3 0M549.3 346.86a1.5 1.5 0 1 0 3 0a1.5 1.5 0 1 0 -3 0M551.3 348.39a1.5 1.5 0 1 0 3 0a1.5 1.5 0 1 0 -3 0M553.3 346.27a1.5 1.5 0 1 0 3 0a1.5 1.5 0 1 0 -3 0M555.3 348.89a1.5 1.5 0 1 0 3 0a1.5 1.5 0 1 0 -3 0M557.3 351.55a1.5 1.5 0 1 0 3 0a1.5 1.5 0 1 0 -3 0M559.3 353.45a1.5 1.5 0 1 0 3 0a1.5 1.5 0 1 0 -3 0M561.3 355.35a1.5 1.5 0 1 0 3 0a1.5 1.5 0 1 0 -3 0M563.3 356.33a1.5 1.5 0 1 0 3 0a1.5 1.5 0 1 0 -3 0M565.3 355.43a1.5 1.5 0 1 0 3 0a1.5 1.5 0 1 0 -3 0M567.3 355.08a1.5 1.5 0 1 0 3 0a1.5 1.5 0 1 0 -3 0M569.3 356.37a1.5 1.5 0 1 0 3 0a1.5 1.5 0 1 0 -3 0M571.3 352.91a1.5 1.5 0 1 0 3 0a1.5 1.5 0 1 0 -3 0M573.3 350.31a1.5 1.5 0 1 0 3 0a1.5 1.5 0 1 0 -3 0M575.3 353.11a1.5 1.5 0 1 0 3 0a1.5 1.5 0 1 0 -3 0M577.3 358.67a1.5 1.5 0 1 0 3 0a1.5 1.5 0 1 0 -3 0M579.3 360.56a1.5 1.5 0 1 0 3 0a1.5 1.5 0 1 0 -3 0M581.3 361.37a1.5 1.5 0 1 0 3 0a1.5 1.5 0 1 0 -3 0M583.3 363.11a1.5 1.5 0 1 0 3 0a1.5 1.5 0 1 0 -3 0M585.3 361.91a1.5 1.5 0 1 0 3 0a1.5 1.5 0 1 0 -3 0M587.3 363.09a1.5 1.5 0 1 0 3 0a1.5 1.5 0 1 0 -3 0M589.3 364.17a1.5 1.5 0 1 0 3 0a1.5 1.5 0 1 0 -3 0M591.3 365.57a1.5 1.5 0 1 0 3 0a1.5 1.5 0 1 0 -3 0M593.3 365.06a1.5 1.5 0 1 0 3 0a1.5 1.5 0 1 0 -3 0M595.3 363.2a1.5 1.5 0 1 0 3 0a1.5 1.5 0 1 0 -3 0M597.3 364.93a1.5 1.5 0 1 0 3 0a1.5 1.5 0 1 0 -3 0M599.3 367.86a1.5 1.5 0 1 0 3 0a1.5 1.5 0 1 0 -3 0M601.3 370.28a1.5 1.5 0 1 0 3 0a1.5 1.5 0 1 0 -3 0M603.3 373.33a1.5 1.5 0 1 0 3 0a1.5 1.5 0 1 0 -3 0M605.3 373.47a1.5 1.5 0 1 0 3 0a1.5 1.5 0 1 0 -3 0M607.3 375.61a1.5 1.5 0 1 0 3 0a1.5 1.5 0 1 0 -3 0M609.3 374.77a1.5 1.5 0 1 0 3 0a1.5 1.5 0 1 0 -3 0M611.3 368.97a1.5 1.5 0 1 0 3 0a1.5 1.5 0 1 0 -3 0M613.3 368.85a1.5 1.5 0 1 0 3 0a1.5 1.5 0 1 0 -3 0M615.3 368.99a1.5 1.5 0 1 0 3 0a1.5 1.5 0 1 0 -3 0M617.3 370.99a1.5 1.5 0 1 0 3 0a1.5 1.5 0 1 0 -3 0M619.3 372.37a1.5 1.5 0 1 0 3 0a1.5 1.5 0 1 0 -3 0M621.3 371.97a1.5 1.5 0 1 0 3 0a1.5 1.5 0 1 0 -3 0M623.3 372.48a1.5 1.5 0 1 0 3 0a1.5 1.5 0 1 0 -3 0M625.3 367.46a1.5 1.5 0 1 0 3 0a1.5 1.5 0 1 0 -3 0M627.3 365.07a1.5 1.5 0 1 0 3 0a1.5 1.5 0 1 0 -3 0M629.3 366.41a1.5 1.5 0 1 0 3 0a1.5 1.5 0 1 0 -3 0M631.3 365.19a1.5 1.5 0 1 0 3 0a1.5 1.5 0 1 0 -3 0M633.3 366.26a1.5 1.5 0 1 0 3 0a1.5 1.5 0 1 0 -3 0M635.3 368.18a1.5 1.5 0 1 0 3 0a1.5 1.5 0 1 0 -3 0M637.3 367.63a1.5 1.5 0 1 0 3 0a1.5 1.5 0 1 0 -3 0M639.3 365.88a1.5 1.5 0 1 0 3 0a1.5 1.5 0 1 0 -3 0M641.3 370.79a1.5 1.5 0 1 0 3 0a1.5 1.5 0 1 0 -3 0M643.3 373.14a1.5 1.5 0 1 0 3 0a1.5 1.5 0 1 0 -3 0M645.3 374.59a1.5 1.5 0 1 0 3 0a1.5 1.5 0 1 0 -3 0M647.3 374.06a1.5 1.5 0 1 0 3 0a1.5 1.5 0 1 0 -3 0M649.3 373.7a1.5 1.5 0 1 0 3 0a1.5 1.5 0 1 0 -3 0M651.3 371.73a1.5 1.5 0 1 0 3 0a1.5 1.5 0 1 0 -3 0M653.3 369.6a1.5 1.5 0 1 0 3 0a1.5 1.5 0 1 0 -3 0M655.3 368.53a1.5 1.5 0 1 0 3 0a1.5 1.5 0 1 0 -3 0M657.3 370.84a1.5 1.5 0 1 0 3 0a1.5 1.5 0 1 0 -3 0M659.3 373.27a1.5 1.5 0 1 0 3 0a1.5 1.5 0 1 0 -3 0M661.3 375.35a1.5 1.5 0 1 0 3 0a1.5 1.5 0 1 0 -3 0M663.3 377.34a1.5 1.5 0 1 0 3 0a1.5 1.5 0 1 0 -3 0M665.3 379.49a1.5 1.5 0 1 0 3 0a1.5 1.5 0 1 0 -3 0M667.3 382.21a1.5 1.5 0 1 0 3 0a1.5 1.5 0 1 0 -3 0M669.3 384.88a1.5 1.5 0 1 0 3 0a1.5 1.5 0 1 0 -3 0M671.3 385.94a1.5 1.5 0 1 0 3 0a1.5 1.5 0 1 0 -3 0M673.3 386.14a1.5 1.5 0 1 0 3 0a1.5 1.5 0 1 0 -3 0M675.3 387.62a1.5 1.5 0 1 0 3 0a1.5 1.5 0 1 0 -3 0M677.3 385.31a1.5 1.5 0 1 0 3 0a1.5 1.5 0 1 0 -3 0M679.3 386.99a1.5 1.5 0 1 0 3 0a1.5 1.5 0 1 0 -3 0M681.2 392a1.5 1.5 0 1 0 3 0a1.5 1.5 0 1 0 -3 0" fill="#22ee22" stroke="#14a014" stroke-width="0.5"/>
<path d="M383.5 300.57a1.5 1.5 0 1 0 3 0a1.5 1.5 0 1 0 -3 0M386.4 298.7a1.5 1.5 0 1 0 3 0a1.5 1.5 0 1 0 -3 0M389.3 297.99a1.5 1.5 0 1 0 3 0a1.5 1.5 0 1 0 -3 0M392.2 296.54a1.5 1.5 0 1 0 3 0a1.5 1.5 0 1 0 -3 0M395.1 296.44a1.5 1.5 0 1 0 3 0a1.5 1.5 0 1 0 -3 0M398 298.64a1.5 1.5 0 1 0 3 0a1.5 1.5 0 1 0 -3 0M400.9 297.42a1.5 1.5 0 1 0 3 0a1.5 1.5 0 1 0 -3 0M403.8 297.63a1.5 1.5 0 1 0 3 0a1.5 1.5 0 1 0 -3 0M406.7 299.94a1.5 1.5 0 1 0 3 0a1.5 1.5 0 1 0 -3 0M409.6 303.27a1.5 1.5 0 1 0 3 0a1.5 1.5 0 1 0 -3 0M412.5 303.22a1.5 1.5 0 1 0 3 0a1.5 1.5 0 1 0 -3 0M414.5 301.25a1.5 1.5 0 1 0 3 0a1.5 1.5 0 1 0 -3 0M416.5 304.14a1.5 1.5 0 1 0 3 0a1.5 1.5 0 1 0 -3 0M418.5 305.77a1.5 1.5 0 1 0 3 0a1.5 1.5 0 1 0 -3 0M420.5 308.58a1.5 1.5 0 1 0 3 0a1.5 1.5 0 1 0 -3 0M422.5 309.88a1.5 1.5 0 1 0 3 0a1.5 1.5 0 1 0 -3 0M424.5 314.07a1.5 1.5 0 1 0 3 0a1.5 1.5 0 1 0 -3 0M426.5 315.42a1.5 1.5 0 1 0 3 0a1.5 1.5 0 1 0 -3 0M428.5 316.02a1.5 1.5 0 1 0 3 0a1.5 1.5 0 1 0 -3 0M430.5 316.89a1.5 1.5 0 1 0 3 0a1.5 1.5 0 1 0 -3 0M432.5 314.63a1.5 1.5 0 1 0 3 0a1.5 1.5 0 1 0 -3 0M434.5 314.71a1.5 1.5 0 1 0 3 0a1.5 1.5 0 1 0 -3 0M436.5 314.97a1.5 1.5 0 1 0 3 0a1.5 1.5 0 1 0 -3 0M438.5 316.11a1.5 1.5 0 1 0 3 0a1.5 1.5 0 1 0 -3 0M440.5 318.58a1.5 1.5 0 1 0 3 0a1.5 1.5 0 1 0 -3 0M442.5 318.17a1.5 1.5 0 1 0 3 0a1.5 1.5 0 1 0 -3 0M444.5 320.93a1.5 1.5 0 1 0 3 0a1.5 1.5 0 1 0 -3 0M446.5 320.46a1.5 1.5 0 1 0 3 0a1.5 1.5 0 1 0 -3 0M448.5 321.38a1.5 1.5 0 1 0 3 0a1.5 1.5 0 1 0 -3 0M450.5 320.85a1.5 1.5 0 1 0 3 0a1.5 1.5 0 1 0 -3 0M452.5 320.8a1.5 1.5 0 1 0 3 0a1.5 1.5 0 1 0 -3 0M454.5 321.84a1.5 1.5 0 1 0 3 0a1.5 1.5 0 1 0 -3 0M456.5 321.99a1.5 1.5 0 1 0 3 0a1.5 1.5 0 1 0 -3 0M458.5 319.45a1.5 1.5 0 1 0 3 0a1.5 1.5 0 1 0 -3 0M460.5 320.1a1.5 1.5 0 1 0 3 0a1.5 1.5 0 1 0 -3 0M462.5 320.23a1.5 1.5 0 1 0 3 0a1.5 1.5 0 1 0 -3 0M464.5 320.76a1.5 1.5 0 1 0 3 0a1.5 1.5 0 1 0 -3 0M466.5 322.2a1.5 1.5 0 1 0 3 0a1.5 1.5 0 1 0 -3 0M468.5 321.97a1.5 1.5 0 1 0 3 0a1.5 1.5 0 1 0 -3 0M470.5 322.43a1.5 1.5 0 1 0 3 0a1.5 1.5 0 1 0 -3 0M472.5 323.06a1.5 1.5 0 1 0 3 0a1.5 1.5 0 1 0 -3 0M474.5 324.57a1.5 1.5 0 1 0 3 0a1.5 1.5 0 1 0 -3 0M476.5 325.39a1.5 1.5 0 1 0 3 0a1.5 1.5 0 1 0 -3 0M478.5 324.78a1.5 1.5 0 1 0 3 0a1.5 1.5 0 1 0 -3 0M480.5 324.63a1.5 1.5 0 1 0 3 0a1.5 1.5 0 1 0 -3 0M482.5 325.71a1.5 1.5 0 1 0 3 0a1.5 1.5 0 1 0 -3 0M484.5 326.78a1.5 1.5 0 1 0 3 0a1.5 1.5 0 1 0 -3 0M486.5 325.81a1.5 1.5 0 1 0 3 0a1.5 1.5 0 1 0 -3 0M488.5 326.32a1.5 1.5 0 1 0 3 0a1.5 1.5 0 1 0 -3 0M490.5 325.91a1.5 1.5 0 1 0 3 0a1.5 1.5 0 1 0 -3 0M492.5 327.13a1.5 1.5 0 1 0 3 0a1.5 1.5 0 1 0 -3 0M494.5 326.33a1.5 1.5 0 1 0 3 0a1.5 1.5 0 1 0 -3 0M496.5 325.79a1.5 1.5 0 1 0 3 0a1.5 1.5 0 1 0 -3 0M498.5 326.54a1.5 1.5 0 1 0 3 0a1.5 1.5 0 1 0 -3 0M500.5 327.85a1.5 1.5 0 1 0 3 0a1.5 1.5 0 1 0 -3 0M502.5 328.22a1.5 1.5 0 1 0 3 0a1.5 1.5 0 1 0 -3 0M504.5 328.43a1.5 1.5 0 1 0 3 0a1.5 1.5 0 1 0 -3 0M506.5 327.34a1.5 1.5 0 1 0 3 0a1.5 1.5 0 1 0 -3 0M508.5 328.59a1.5 1.5 0 1 0 3 0a1.5 1.5 0 1 0 -3 0M510.5 327.55a1.5 1.5 0 1 0 3 0a1.5 1.5 0 1 0 -3 0M512.5 324.46a1.5 1.5 0 1 0 3 0a1.5 1.5 0 1 0 -3 0M514.5 321.67a1.5 1.5 0 1 0 3 0a1.5 1.5 0 1 0 -3 0M516.5 321.06a1.5 1.5 0 1 0 3 0a1.5 1.5 0 1 0 -3 0M518.5 324.67a1.5 1.5 0 1 0 3 0a1.5 1.5 0 1 0 -3 0M520.5 325.36a1.5 1.5 0 1 0 3 0a1.5 1.5 0 1 0 -3 0M522.5 327.84a1.5 1.5 0 1 0 3 0a1.5 1.5 0 1 0 -3 0M524.5 325.09a1.5 1.5 0 1 0 3 0a1.5 1.5 0 1 0 -3 0M526.5 323.24a1.5 1.5 0 1 0 3 0a1.5 1.5 0 1 0 -3 0M528.5 327.04a1.5 1.5 0 1 0 3 0a1.5 1.5 0 1 0 -3 0M530.5 330.76a1.5 1.5 0 1 0 3 0a1.5 1.5 0 1 0 -3 0M532.5 333.17a1.5 1.5 0 1 0 3 0a1.5 1.5 0 1 0 -3 0M534.5 331.05a1.5 1.5 0 1 0 3 0a1.5 1.5 0 1 0 -3 0M536.5 331.41a1.5 1.5 0 1 0 3 0a1.5 1.5 0 1 0 -3 0M538.5 332.48a1.5 1.5 0 1 0 3 0a1.5 1.5 0 1 0 -3 0M540.5 332.26a1.5 1.5 0 1 0 3 0a1.5 1.5 0 1 0 -3 0M542.5 333.56a1.5 1.5 0 1 0 3 0a1.5 1.5 0 1 0 -3 0M544.5 333.27a1.5 1.5 0 1 0 3 0a1.5 1.5 0 1 0 -3 0M546.5 336a1.5 1.5 0 1 0 3 0a1.5 1.5 0 1 0 -3 0M548.5 332.81a1.5 1.5 0 1 0 3 0a1.5 1.5 0 1 0 -3 0M550.5 331.65a1.5 1.5 0 1 0 3 0a1.5 1.5 0 1 0 -3 0M552.5 329.75a1.5 1.5 0 1 0 3 0a1.5 1.5 0 1 0 -3 0M554.5 329.46a1.5 1.5 0 1 0 3 0a1.5 1.5 0 1 0 -3 0M556.5 330.84a1.5 1.5 0 1 0 3 0a1.5 1.5 0 1 0 -3 0M558.5 335.23a1.5 1.5 0 1 0 3 0a1.5 1.5 0 1 0 -3 0M560.5 337.48a1.5 1.5 0 1 0 3 0a1.5 1.5 0 1 0 -3 0M562.5 335.85a1.5 1.5 0 1 0 3 0a1.5 1.5 0 1 0 -3 0M564.5 331.71a1.5 1.5 0 1 0 3 0a1.5 1.5 0 1 0 -3 0M566.5 330.99a1.5 1.5 0 1 0 3 0a1.5 1.5 0 1 0 -3 0M568.5 327.35a1.5 1.5 0 1 0 3 0a1.5 1.5 0 1 0 -3 0M570.5 323.76a1.5 1.5 0 1 0 3 0a1.5 1.5 0 1 0 -3 0M572.5 317.44a1.5 1.5 0 1 0 3 0a1.5 1.5 0 1 0 -3 0M574.5 312.52a1.5 1.5 0 1 0 3 0a1.5 1.5 0 1 0 -3 0M576.5 311.35a1.5 1.5 0 1 0 3 0a1.5 1.5 0 1 0 -3 0M578.5 311.49a1.5 1.5 0 1 0 3 0a1.5 1.5 0 1 0 -3 0M580.5 308.86a1.5 1.5 0 1 0 3 0a1.5 1.5 0 1 0 -3 0M582.5 308.58a1.5 1.5 0 1 0 3 0a1.5 1.5 0 1 0 -3 0M584.5 307.33a1.5 1.5 0 1 0 3 0a1.5 1.5 0 1 0 -3 0M586.5 306.75a1.5 1.5 0 1 0 3 0a1.5 1.5 0 1 0 -3 0M588.5 304.62a1.5 1.5 0 1 0 3 0a1.5 1.5 0 1 0 -3 0M590.5 304.8a1.5 1.5 0 1 0 3 0a1.5 1.5 0 1 0 -3 0M592.5 307.76a1.5 1.5 0 1 0 3 0a1.5 1.5 0 1 0 -3 0M594.5 308.37a1.5 1.5 0 1 0 3 0a1.5 1.5 0 1 0 -3 0M596.5 307.03a1.5 1.5 0 1 0 3 0a1.5 1.5 0 1 0 -3 0M598.5 304.93a1.5 1.5 0 1 0 3 0a1.5 1.5 0 1 0 -3 0M600.5 305.36a1.5 1.5 0 1 0 3 0a1.5 1.5 0 1 0 -3 0M602.5 302.66a1.5 1.5 0 1 0 3 0a1.5 1.5 0 1 0 -3 0M604.5 302.57a1.5 1.5 0 1 0 3 0a1.5 1.5 0 1 0 -3 0M606.5 297.89a1.5 1.5 0 1 0 3 0a1.5 1.5 0 1 0 -3 0M608.5 296.44a1.5 1.5 0 1 0 3 0a1.5 1.5 0 1 0 -3 0M610.5 293.41a1.5 1.5 0 1 0 3 0a1.5 1.5 0 1 0 -3 0M612.5 289.35a1.5 1.5 0 1 0 3 0a1.5 1.5 0 1 0 -3 0M614.5 285.73a1.5 1.5 0 1 0 3 0a1.5 1.5 0 1 0 -3 0M616.5 285.17a1.5 1.5 0 1 0 3 0a1.5 1.5 0 1 0 -3 0M618.5 285.1a1.5 1.5 0 1 0 3 0a1.5 1.5 0 1 0 -3 0M620.5 283.72a1.5 1.5 0 1 0 3 0a1.5 1.5 0 1 0 -3 0M622.5 281.16a1.5 1.5 0 1 0 3 0a1.5 1.5 0 1 0 -3 0M624.5 280.05a1.5 1.5 0 1 0 3 0a1.5 1.5 0 1 0 -3 0M626.5 276.4a1.5 1.5 0 1 0 3 0a1.5 1.5 0 1 0 -3 0M628.5 275.39a1.5 1.5 0 1 0 3 0a1.5 1.5 0 1 0 -3 0M630.5 274.9a1.5 1.5 0 1 0 3 0a1.5 1.5 0 1 0 -3 0M632.5 275.23a1.5 1.5 0 1 0 3 0a1.5 1.5 0 1 0 -3 0M634.5 275.76a1.5 1.5 0 1 0 3 0a1.5 1.5 0 1 0 -3 0M636.5 274.26a1.5 1.5 0 1 0 3 0a1.5 1.5 0 1 0 -3 0M638.5 273.86a1.5 1.5 0 1 0 3 0a1.5 1.5 0 1 0 -3 0M640.5 272.83a1.5 1.5 0 1 0 3 0a1.5 1.5 0 1 0 -3 0M642.5 273.35a1.5 1.5 0 1 0 3 0a1.5 1.5 0 1 0 -3 0M644.5 268.37a1.5 1.5 0 1 0 3 0a1.5 1.5 0 1 0 -3 0M646.5 266.17a1.5 1.5 0 1 0 3 0a1.5 1.5 0 1 0 -3 0M648.5 267.61a1.5 1.5 0 1 0 3 0a1.5 1.5 0 1 0 -3 0M650.5 263.62a1.5 1.5 0 1 0 3 0a1.5 1.5 0 1 0 -3 0M652.5 261.84a1.5 1.5 0 1 0 3 0a1.5 1.5 0 1 0 -3 0M654.5 256.77a1.5 1.5 0 1 0 3 0a1.5 1.5 0 1 0 -3 0M656.5 259.28a1.5 1.5 0 1 0 3 0a1.5 1.5 0 1 0 -3 0M658.5 259.86a1.5 1.5 0 1 0 3 0a1.5 1.5 0 1 0 -3 0M660.5 257.43a1.5 1.5 0 1 0 3 0a1.5 1.5 0 1 0 -3 0M662.5 257.73a1.5 1.5 0 1 0 3 0a1.5 1.5 0 1 0 -3 0M664.5 259.41a1.5 1.5 0 1 0 3 0a1.5 1.5 0 1 0 -3 0M666.5 264.49a1.5 1.5 0 1 0 3 0a1.5 1.5 0 1 0 -3 0M668.5 265.81a1.5 1.5 0 1 0 3 0a1.5 1.5 0 1 0 -3 0M670.5 266.28a1.5 1.5 0 1 0 3 0a1.5 1.5 0 1 0 -3 0M672.5 264.68a1.5 1.5 0 1 0 3 0a1.5 1.5 0 1 0 -3 0M674.5 264.17a1.5 1.5 0 1 0 3 0a1.5 1.5 0 1 0 -3 0M676.5 265.13a1.5 1.5 0 1 0 3 0a1.5 1.5 0 1 0 -3 0M678.5 267.16a1.5 1.5 0 1 0 3 0a1.5 1.5 0 1 0 -3 0" fill="#a866b8" stroke="#7a4a88" stroke-width="0.5"/>
<path d="M373.5 299.43a1.5 1.5 0 1 0 3 0a1.5 1.5 0 1 0 -3 0M376.4 300.62a1.5 1.5 0 1 0 3 0a1.5 1.5 0 1 0 -3 0M379.3 299.94a1.5 1.5 0 1 0 3 0a1.5 1.5 0 1 0 -3 0M382.2 299.53a1.5 1.5 0 1 0 3 0a1.5 1.5 0 1 0 -3 0M385.1 301.54a1.5 1.5 0 1 0 3 0a1.5 1.5 0 1 0 -3 0M388 297.76a1.5 1.5 0 1 0 3 0a1.5 1.5 0 1 0 -3 0M390.9 296.43a1.5 1.5 0 1 0 3 0a1.5 1.5 0 1 0 -3 0M393.8 295.63a1.5 1.5 0 1 0 3 0a1.5 1.5 0 1 0 -3 0M396.7 293.4a1.5 1.5 0 1 0 3 0a1.5 1.5 0 1 0 -3 0M399.6 292.58a1.5 1.5 0 1 0 3 0a1.5 1.5 0 1 0 -3 0M402.5 290.18a1.5 1.5 0 1 0 3 0a1.5 1.5 0 1 0 -3 0M405.4 289.67a1.5 1.5 0 1 0 3 0a1.5 1.5 0 1 0 -3 0M408.3 290.02a1.5 1.5 0 1 0 3 0a1.5 1.5 0 1 0 -3 0M411.2 292.85a1.5 1.5 0 1 0 3 0a1.5 1.5 0 1 0 -3 0M413.2 293.44a1.5 1.5 0 1 0 3 0a1.5 1.5 0 1 0 -3 0M415.2 293.07a1.5 1.5 0 1 0 3 0a1.5 1.5 0 1 0 -3 0M417.2 293.96a1.5 1.5 0 1 0 3 0a1.5 1.5 0 1 0 -3 0M419.2 293.61a1.5 1.5 0 1 0 3 0a1.5 1.5 0 1 0 -3 0M421.2 293.64a1.5 1.5 0 1 0 3 0a1.5 1.5 0 1 0 -3 0M423.2 293.12a1.5 1.5 0 1 0 3 0a1.5 1.5 0 1 0 -3 0M425.2 295.52a1.5 1.5 0 1 0 3 0a1.5 1.5 0 1 0 -3 0M427.2 295.62a1.5 1.5 0 1 0 3 0a1.5 1.5 0 1 0 -3 0M429.2 300.66a1.5 1.5 0 1 0 3 0a1.5 1.5 0 1 0 -3 0M431.2 300.46a1.5 1.5 0 1 0 3 0a1.5 1.5 0 1 0 -3 0M433.2 299.46a1.5 1.5 0 1 0 3 0a1.5 1.5 0 1 0 -3 0M435.2 300.66a1.5 1.5 0 1 0 3 0a1.5 1.5 0 1 0 -3 0M437.2 299.58a1.5 1.5 0 1 0 3 0a1.5 1.5 0 1 0 -3 0M439.2 299.52a1.5 1.5 0 1 0 3 0a1.5 1.5 0 1 0 -3 0M441.2 296.75a1.5 1.5 0 1 0 3 0a1.5 1.5 0 1 0 -3 0M443.2 297.34a1.5 1.5 0 1 0 3 0a1.5 1.5 0 1 0 -3 0M445.2 297.67a1.5 1.5 0 1 0 3 0a1.5 1.5 0 1 0 -3 0M447.2 298.07a1.5 1.5 0 1 0 3 0a1.5 1.5 0 1 0 -3 0M449.2 300.29a1.5 1.5 0 1 0 3 0a1.5 1.5 0 1 0 -3 0M451.2 298.63a1.5 1.5 0 1 0 3 0a1.5 1.5 0 1 0 -3 0M453.2 295.23a1.5 1.5 0 1 0 3 0a1.5 1.5 0 1 0 -3 0M455.2 295.4a1.5 1.5 0 1 0 3 0a1.5 1.5 0 1 0 -3 0M457.2 296.38a1.5 1.5 0 1 0 3 0a1.5 1.5 0 1 0 -3 0M459.2 295.47a1.5 1.5 0 1 0 3 0a1.5 1.5 0 1 0 -3 0M461.2 297.14a1.5 1.5 0 1 0 3 0a1.5 1.5 0 1 0 -3 0M463.2 295.14a1.5 1.5 0 1 0 3 0a1.5 1.5 0 1 0 -3 0M465.2 296.91a1.5 1.5 0 1 0 3 0a1.5 1.5 0 1 0 -3 0M467.2 296.29a1.5 1.5 0 1 0 3 0a1.5 1.5 0 1 0 -3 0M469.2 297.8a1.5 1.5 0 1 0 3 0a1.5 1.5 0 1 0 -3 0M471.2 299.33a1.5 1.5 0 1 0 3 0a1.5 1.5 0 1 0 -3 0M473.2 298.53a1.5 1.5 0 1 0 3 0a1.5 1.5 0 1 0 -3 0M475.2 299.63a1.5 1.5 0 1 0 3 0a1.5 1.5 0 1 0 -3 0M477.2 299.84a1.5 1.5 0 1 0 3 0a1.5 1.5 0 1 0 -3 0M479.2 298.87a1.5 1.5 0 1 0 3 0a1.5 1.5 0 1 0 -3 0M481.2 298.71a1.5 1.5 0 1 0 3 0a1.5 1.5 0 1 0 -3 0M483.2 299.59a1.5 1.5 0 1 0 3 0a1.5 1.5 0 1 0 -3 0M485.2 300.05a1.5 1.5 0 1 0 3 0a1.5 1.5 0 1 0 -3 0M487.2 302.65a1.5 1.5 0 1 0 3 0a1.5 1.5 0 1 0 -3 0M489.2 303.13a1.5 1.5 0 1 0 3 0a1.5 1.5 0 1 0 -3 0M491.2 301.12a1.5 1.5 0 1 0 3 0a1.5 1.5 0 1 0 -3 0M493.2 297.74a1.5 1.5 0 1 0 3 0a1.5 1.5 0 1 0 -3 0M495.2 299.68a1.5 1.5 0 1 0 3 0a1.5 1.5 0 1 0 -3 0M497.2 298.21a1.5 1.5 0 1 0 3 0a1.5 1.5 0 1 0 -3 0M499.2 298.73a1.5 1.5 0 1 0 3 0a1.5 1.5 0 1 0 -3 0M501.2 298.93a1.5 1.5 0 1 0 3 0a1.5 1.5 0 1 0 -3 0M503.2 298.73a1.5 1.5 0 1 0 3 0a1.5 1.5 0 1 0 -3 0M505.2 299.7a1.5 1.5 0 1 0 3 0a1.5 1.5 0 1 0 -3 0M507.2 297.93a1.5 1.5 0 1 0 3 0a1.5 1.5 0 1 0 -3 0M509.2 296.81a1.5 1.5 0 1 0 3 0a1.5 1.5 0 1 0 -3 0M511.2 295.92a1.5 1.5 0 1 0 3 0a1.5 1.5 0 1 0 -3 0M513.2 290.74a1.5 1.5 0 1 0 3 0a1.5 1.5 0 1 0 -3 0M515.2 291.43a1.5 1.5 0 1 0 3 0a1.5 1.5 0 1 0 -3 0M517.2 292.12a1.5 1.5 0 1 0 3 0a1.5 1.5 0 1 0 -3 0M519.2 296.02a1.5 1.5 0 1 0 3 0a1.5 1.5 0 1 0 -3 0M521.2 296.23a1.5 1.5 0 1 0 3 0a1.5 1.5 0 1 0 -3 0M523.2 294.3a1.5 1.5 0 1 0 3 0a1.5 1.5 0 1 0 -3 0M525.2 295.53a1.5 1.5 0 1 0 3 0a1.5 1.5 0 1 0 -3 0M527.2 294.81a1.5 1.5 0 1 0 3 0a1.5 1.5 0 1 0 -3 0M529.2 295.34a1.5 1.5 0 1 0 3 0a1.5 1.5 0 1 0 -3 0M531.2 297.6a1.5 1.5 0 1 0 3 0a1.5 1.5 0 1 0 -3 0M533.2 298.26a1.5 1.5 0 1 0 3 0a1.5 1.5 0 1 0 -3 0M535.2 297.47a1.5 1.5 0 1 0 3 0a1.5 1.5 0 1 0 -3 0M537.2 297.83a1.5 1.5 0 1 0 3 0a1.5 1.5 0 1 0 -3 0M539.2 297.06a1.5 1.5 0 1 0 3 0a1.5 1.5 0 1 0 -3 0M541.2 300.44a1.5 1.5 0 1 0 3 0a1.5 1.5 0 1 0 -3 0M543.2 299.74a1.5 1.5 0 1 0 3 0a1.5 1.5 0 1 0 -3 0M545.2 301.18a1.5 1.5 0 1 0 3 0a1.5 1.5 0 1 0 -3 0M547.2 302.49a1.5 1.5 0 1 0 3 0a1.5 1.5 0 1 0 -3 0M549.2 302.01a1.5 1.5 0 1 0 3 0a1.5 1.5 0 1 0 -3 0M551.2 301.72a1.5 1.5 0 1 0 3 0a1.5 1.5 0 1 0 -3 0M553.2 300.78a1.5 1.5 0 1 0 3 0a1.5 1.5 0 1 0 -3 0M555.2 303.35a1.5 1.5 0 1 0 3 0a1.5 1.5 0 1 0 -3 0M557.2 304.13a1.5 1.5 0 1 0 3 0a1.5 1.5 0 1 0 -3 0M559.2 303.96a1.5 1.5 0 1 0 3 0a1.5 1.5 0 1 0 -3 0M561.2 305.61a1.5 1.5 0 1 0 3 0a1.5 1.5 0 1 0 -3 0M563.2 305.68a1.5 1.5 0 1 0 3 0a1.5 1.5 0 1 0 -3 0M565.2 306.33a1.5 1.5 0 1 0 3 0a1.5 1.5 0 1 0 -3 0M567.2 307.48a1.5 1.5 0 1 0 3 0a1.5 1.5 0 1 0 -3 0M569.2 305.05a1.5 1.5 0 1 0 3 0a1.5 1.5 0 1 0 -3 0M571.2 303.95a1.5 1.5 0 1 0 3 0a1.5 1.5 0 1 0 -3 0M573.2 303.95a1.5 1.5 0 1 0 3 0a1.5 1.5 0 1 0 -3 0M575.2 301.69a1.5 1.5 0 1 0 3 0a1.5 1.5 0 1 0 -3 0M577.2 301.37a1.5 1.5 0 1 0 3 0a1.5 1.5 0 1 0 -3 0M579.2 304.61a1.5 1.5 0 1 0 3 0a1.5 1.5 0 1 0 -3 0M581.2 306.68a1.5 1.5 0 1 0 3 0a1.5 1.5 0 1 0 -3 0M583.2 310.01a1.5 1.5 0 1 0 3 0a1.5 1.5 0 1 0 -3 0M585.2 312.02a1.5 1.5 0 1 0 3 0a1.5 1.5 0 1 0 -3 0M587.2 315.31a1.5 1.5 0 1 0 3 0a1.5 1.5 0 1 0 -3 0M589.2 317.92a1.5 1.5 0 1 0 3 0a1.5 1.5 0 1 0 -3 0M591.2 317.5a1.5 1.5 0 1 0 3 0a1.5 1.5 0 1 0 -3 0M593.2 318.63a1.5 1.5 0 1 0 3 0a1.5 1.5 0 1 0 -3 0M595.2 317.44a1.5 1.5 0 1 0 3 0a1.5 1.5 0 1 0 -3 0M597.2 314.62a1.5 1.5 0 1 0 3 0a1.5 1.5 0 1 0 -3 0M599.2 315.85a1.5 1.5 0 1 0 3 0a1.5 1.5 0 1 0 -3 0M601.2 314.42a1.5 1.5 0 1 0 3 0a1.5 1.5 0 1 0 -3 0M603.2 315.8a1.5 1.5 0 1 0 3 0a1.5 1.5 0 1 0 -3 0M605.2 318.57a1.5 1.5 0 1 0 3 0a1.5 1.5 0 1 0 -3 0M607.2 322.78a1.5 1.5 0 1 0 3 0a1.5 1.5 0 1 0 -3 0M609.2 322.34a1.5 1.5 0 1 0 3 0a1.5 1.5 0 1 0 -3 0M611.2 320.31a1.5 1.5 0 1 0 3 0a1.5 1.5 0 1 0 -3 0M613.2 316.06a1.5 1.5 0 1 0 3 0a1.5 1.5 0 1 0 -3 0M615.2 315.55a1.5 1.5 0 1 0 3 0a1.5 1.5 0 1 0 -3 0M617.2 317.21a1.5 1.5 0 1 0 3 0a1.5 1.5 0 1 0 -3 0M619.2 318.4a1.5 1.5 0 1 0 3 0a1.5 1.5 0 1 0 -3 0M621.2 317.78a1.5 1.5 0 1 0 3 0a1.5 1.5 0 1 0 -3 0M623.2 316.61a1.5 1.5 0 1 0 3 0a1.5 1.5 0 1 0 -3 0M625.2 315.69a1.5 1.5 0 1 0 3 0a1.5 1.5 0 1 0 -3 0M627.2 312.41a1.5 1.5 0 1 0 3 0a1.5 1.5 0 1 0 -3 0M629.2 313.13a1.5 1.5 0 1 0 3 0a1.5 1.5 0 1 0 -3 0M631.2 312.51a1.5 1.5 0 1 0 3 0a1.5 1.5 0 1 0 -3 0M633.2 312.35a1.5 1.5 0 1 0 3 0a1.5 1.5 0 1 0 -3 0M635.2 313.61a1.5 1.5 0 1 0 3 0a1.5 1.5 0 1 0 -3 0M637.2 308.8a1.5 1.5 0 1 0 3 0a1.5 1.5 0 1 0 -3 0M639.2 307.41a1.5 1.5 0 1 0 3 0a1.5 1.5 0 1 0 -3 0M641.2 306a1.5 1.5 0 1 0 3 0a1.5 1.5 0 1 0 -3 0M643.2 305.06a1.5 1.5 0 1 0 3 0a1.5 1.5 0 1 0 -3 0M645.2 303.46a1.5 1.5 0 1 0 3 0a1.5 1.5 0 1 0 -3 0M647.2 303.23a1.5 1.5 0 1 0 3 0a1.5 1.5 0 1 0 -3 0M649.2 299.58a1.5 1.5 0 1 0 3 0a1.5 1.5 0 1 0 -3 0M651.2 299.85a1.5 1.5 0 1 0 3 0a1.5 1.5 0 1 0 -3 0M653.2 299.76a1.5 1.5 0 1 0 3 0a1.5 1.5 0 1 0 -3 0M655.2 298.96a1.5 1.5 0 1 0 3 0a1.5 1.5 0 1 0 -3 0M657.2 299.98a1.5 1.5 0 1 0 3 0a1.5 1.5 0 1 0 -3 0M659.2 299.96a1.5 1.5 0 1 0 3 0a1.5 1.5 0 1 0 -3 0M661.2 298.72a1.5 1.5 0 1 0 3 0a1.5 1.5 0 1 0 -3 0M663.2 298.02a1.5 1.5 0 1 0 3 0a1.5 1.5 0 1 0 -3 0M665.2 297.41a1.5 1.5 0 1 0 3 0a1.5 1.5 0 1 0 -3 0M667.2 295.21a1.5 1.5 0 1 0 3 0a1.5 1.5 0 1 0 -3 0M669.2 295.05a1.5 1.5 0 1 0 3 0a1.5 1.5 0 1 0 -3 0M671.2 294.55a1.5 1.5 0 1 0 3 0a1.5 1.5 0 1 0 -3 0M673.2 293.47a1.5 1.5 0 1 0 3 0a1.5 1.5 0 1 0 -3 0M675.2 295.03a1.5 1.5 0 1 0 3 0a1.5 1.5 0 1 0 -3 0M677.2 294.78a1.5 1.5 0 1 0 3 0a1.5 1.5 0 1 0 -3 0M679.2 294.62a1.5 1.5 0 1 0 3 0a1.5 1.5 0 1 0 -3 0" fill="#9a9cf6" stroke="#6666cc" stroke-width="0.5"/>
<text x="371.6" y="231.06" font-size="7" text-anchor="end" fill="#222" style="color:#222" font-weight="normal" >60</text>
<text x="371.6" y="255.44" font-size="7" text-anchor="end" fill="#222" style="color:#222" font-weight="normal" >40</text>
<text x="371.6" y="279.82" font-size="7" text-anchor="end" fill="#222" style="color:#222" font-weight="normal" >20</text>
<text x="371.6" y="304.2" font-size="7" text-anchor="end" fill="#222" style="color:#222" font-weight="normal" >0</text>
<text x="371.6" y="328.58" font-size="7" text-anchor="end" fill="#222" style="color:#222" font-weight="normal" >-20</text>
<text x="371.6" y="352.96" font-size="7" text-anchor="end" fill="#222" style="color:#222" font-weight="normal" >-40</text>
<text x="371.6" y="377.34" font-size="7" text-anchor="end" fill="#222" style="color:#222" font-weight="normal" >-60</text>
<text x="371.6" y="401.72" font-size="7" text-anchor="end" fill="#222" style="color:#222" font-weight="normal" >-80</text>
<text x="414.4" y="406.8" font-size="7.2" text-anchor="middle" fill="#222" style="color:#222" font-weight="normal" >2020/05/30</text>
<text x="470.5" y="406.8" font-size="7.2" text-anchor="middle" fill="#222" style="color:#222" font-weight="normal" >2020/12/16</text>
<text x="526.6" y="406.8" font-size="7.2" text-anchor="middle" fill="#222" style="color:#222" font-weight="normal" >2021/07/04</text>
<text x="582.7" y="406.8" font-size="7.2" text-anchor="middle" fill="#222" style="color:#222" font-weight="normal" >2022/01/20</text>
<text x="638.8" y="406.8" font-size="7.2" text-anchor="middle" fill="#222" style="color:#222" font-weight="normal" >2022/08/08</text>
<text x="529" y="414.8" font-size="7.6" text-anchor="middle" fill="#222" style="color:#222" font-weight="normal" >Time</text>
<text transform="translate(357,305.6) rotate(-90)" font-size="7.1" text-anchor="middle" fill="#222" style="color:#222" textLength="79.2" lengthAdjust="spacing">Cumulative Deformation/mm</text>
<text x="347.5" y="224.1" font-size="11.6" text-anchor="start" fill="#111" style="color:#111" font-weight="bold" >(d)</text>
<rect x="383.5" y="343" width="31.5" height="49.5" fill="#fff" stroke="#777" stroke-width="0.9"/>
<rect x="389.6" y="348.8" width="5.6" height="5.6" fill="#20f0f0"/>
<text x="397.8" y="354.2" font-size="7.3" text-anchor="start" fill="#222" style="color:#222" font-weight="normal" >P9</text>
<rect x="389.6" y="359.85" width="5.6" height="5.6" fill="#d070d8"/>
<text x="397.8" y="365.25" font-size="7.3" text-anchor="start" fill="#222" style="color:#222" font-weight="normal" >P10</text>
<rect x="389.6" y="370.9" width="5.6" height="5.6" fill="#80f000"/>
<text x="397.8" y="376.3" font-size="7.3" text-anchor="start" fill="#222" style="color:#222" font-weight="normal" >P11</text>
<rect x="389.6" y="381.95" width="5.6" height="5.6" fill="#d8bcd8"/>
<text x="397.8" y="387.35" font-size="7.3" text-anchor="start" fill="#222" style="color:#222" font-weight="normal" >P12</text>
</svg>
</body></html>
